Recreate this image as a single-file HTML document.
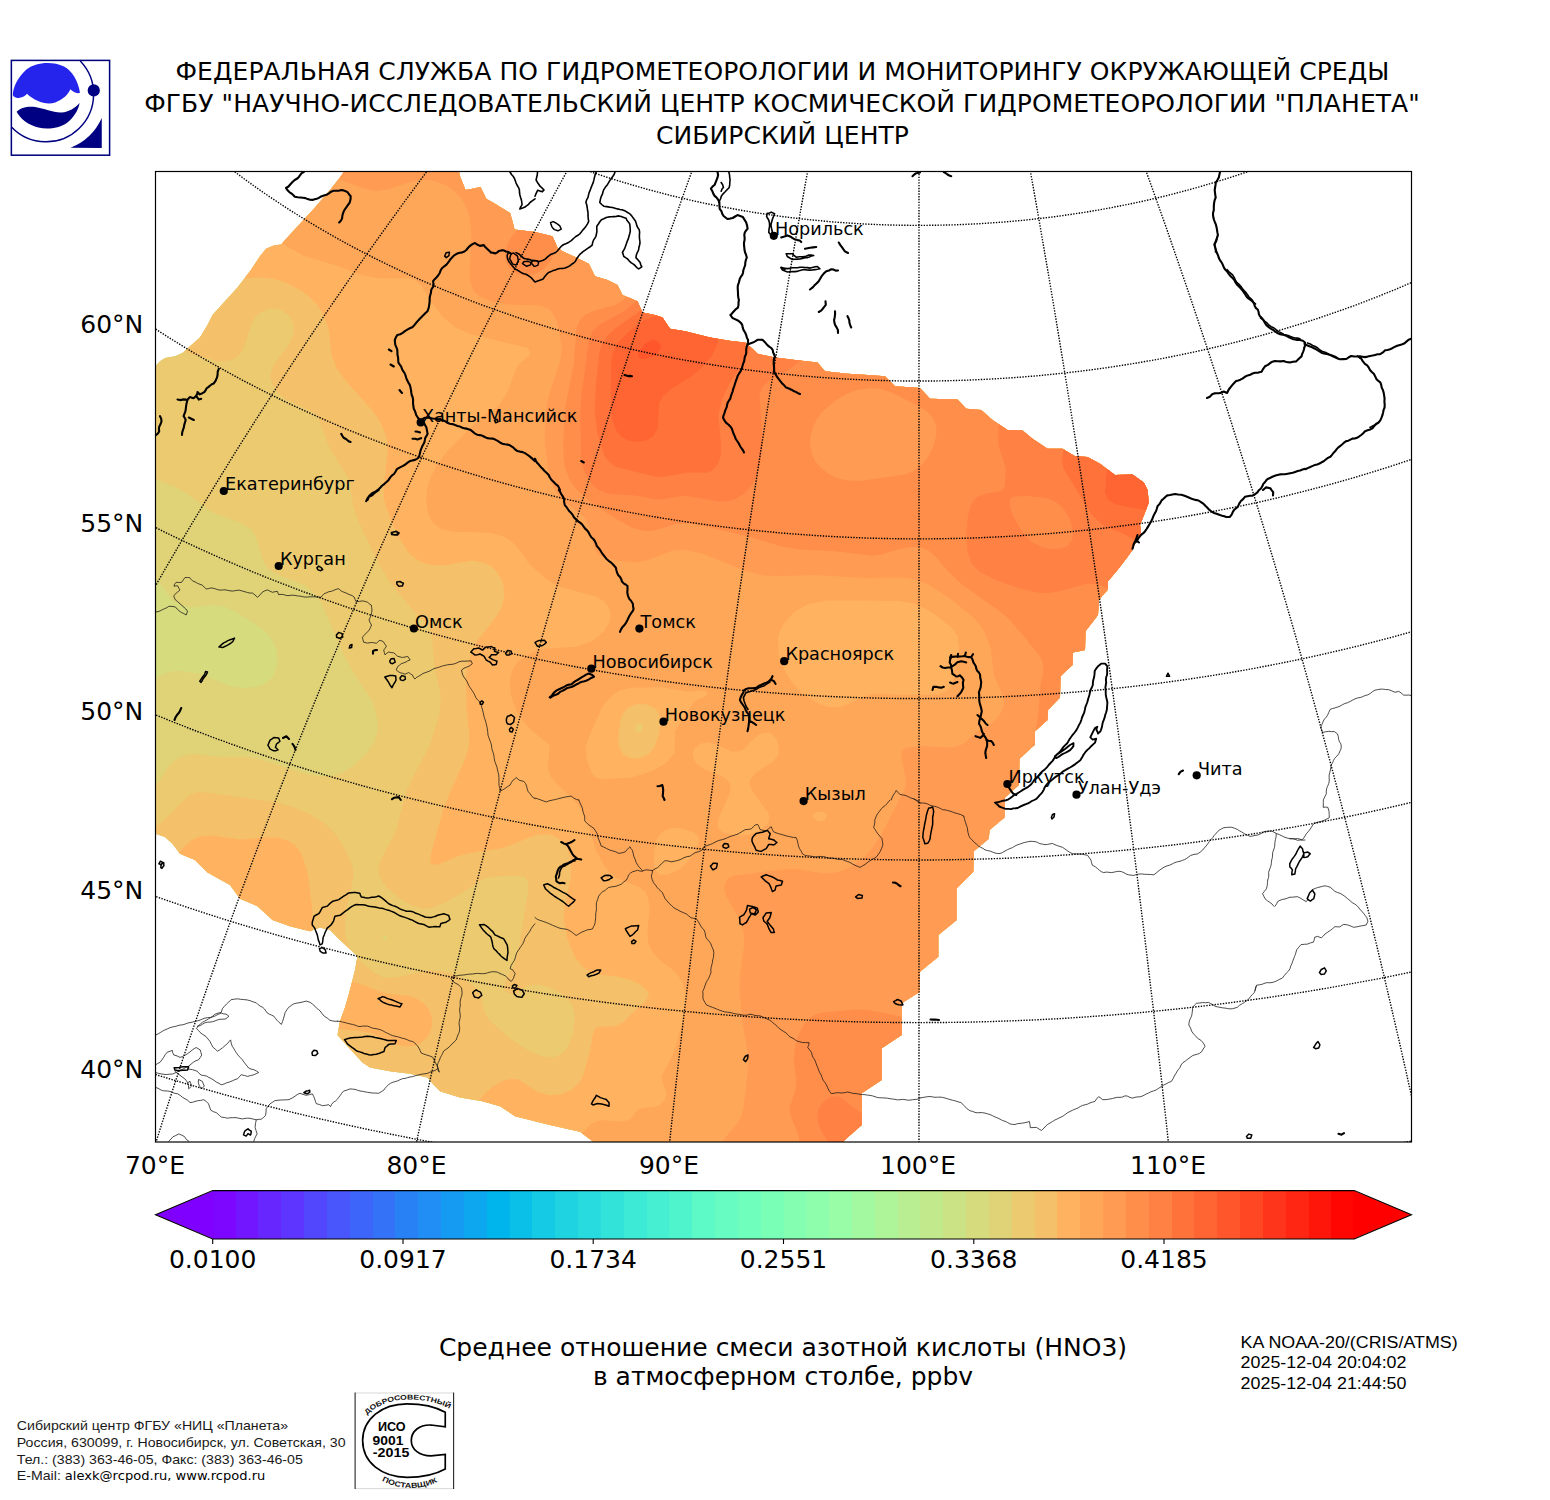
<!DOCTYPE html>
<html lang="ru"><head><meta charset="utf-8"><title>HNO3</title>
<style>html,body{margin:0;padding:0;background:#fff}body{width:1550px;height:1500px;overflow:hidden}svg{display:block}.dj{font-family:"DejaVu Sans","Liberation Sans",sans-serif}.lib{font-family:"Liberation Sans","DejaVu Sans",sans-serif}</style>
</head><body>
<svg width="1550" height="1500" viewBox="0 0 1550 1500">
<rect x="0" y="0" width="1550" height="1500" fill="#fff"/>
<g class="dj" font-size="25" fill="#000" text-anchor="middle" letter-spacing="0.07">
<text x="782.5" y="80">ФЕДЕРАЛЬНАЯ СЛУЖБА ПО ГИДРОМЕТЕОРОЛОГИИ И МОНИТОРИНГУ ОКРУЖАЮЩЕЙ СРЕДЫ</text>
<text x="782" y="112">ФГБУ "НАУЧНО-ИССЛЕДОВАТЕЛЬСКИЙ ЦЕНТР КОСМИЧЕСКОЙ ГИДРОМЕТЕОРОЛОГИИ "ПЛАНЕТА"</text>
<text x="782.5" y="144">СИБИРСКИЙ ЦЕНТР</text>
</g>
<g id="logo" transform="translate(0 50) scale(0.08)">
<rect x="142" y="130" width="1228" height="1185" fill="#fff" stroke="#00007c" stroke-width="19"/>
<path fill="#2424ec" d="M160 560 C165 470 215 350 330 245 C430 160 640 130 800 205 C900 255 980 390 1000 535 C965 552 915 530 880 492 C850 560 780 625 690 655 C590 690 440 650 338 548 C305 585 255 608 205 596 C180 590 162 580 160 560 Z"/>
<path fill="#000082" d="M208 772 C250 725 340 700 440 712 C560 730 660 785 770 780 C860 775 940 725 996 662 C975 760 920 850 830 915 C740 975 600 1000 480 970 C360 940 250 860 208 772 Z"/>
<path fill="none" stroke="#000082" stroke-width="18" d="M1003 138 A594 594 0 0 1 146 965"/>
<circle cx="1172" cy="505" r="76" fill="#000082"/>
<path fill="#000082" d="M1272 850 L1272 1225 L882 1222 A725 725 0 0 0 1272 850 Z"/>
</g>
<clipPath id="fr"><rect x="155.5" y="171.5" width="1256.0" height="970.5"/></clipPath>
<g clip-path="url(#fr)">
<clipPath id="dz"><path d="M155.5 366.2 160.0 361.2 165.0 358.0 175.0 356.2 182.5 353.0 190.0 346.2 200.0 337.5 207.5 325.0 212.5 315.0 225.0 301.2 237.5 287.5 250.0 271.2 260.0 256.2 266.2 248.8 273.8 245.5 281.2 244.5 286.2 238.8 300.0 223.8 315.0 207.5 330.0 190.0 340.0 177.5 344.5 171.0 458.8 171.0 460.0 176.2 462.5 182.5 465.5 190.0 472.5 188.8 480.5 187.0 483.8 193.8 486.2 198.8 495.0 203.8 510.0 213.0 512.5 221.2 514.5 229.5 522.5 230.5 535.0 232.0 552.5 236.2 557.5 247.5 562.5 251.2 576.2 257.5 588.8 263.8 595.0 276.2 607.5 280.0 617.5 285.0 622.5 295.0 637.5 301.2 642.5 312.5 655.0 315.0 662.5 317.5 670.0 328.8 685.0 331.2 710.0 337.5 732.5 341.2 745.0 342.5 752.5 348.8 757.5 353.8 775.0 357.5 795.0 360.0 817.5 362.5 825.0 371.2 847.5 373.8 867.5 375.0 885.0 376.2 895.0 386.2 920.0 388.0 930.0 398.8 957.5 399.5 966.2 408.8 981.2 410.0 992.5 420.0 1007.5 430.0 1022.5 430.5 1032.5 438.8 1047.5 448.8 1062.5 448.8 1075.0 456.2 1087.5 457.0 1100.0 463.8 1115.0 475.0 1132.5 474.5 1143.8 482.5 1147.5 490.0 1148.8 502.5 1145.0 512.5 1140.0 525.0 1141.0 532.5 1137.5 540.0 1137.0 538.8 1132.5 550.0 1126.2 558.8 1117.5 570.0 1108.0 581.2 1107.5 590.0 1098.8 600.0 1098.0 615.0 1085.5 631.2 1085.0 650.0 1073.0 652.5 1072.5 665.0 1060.5 676.2 1060.0 697.5 1048.0 710.0 1047.5 720.0 1035.0 731.2 1034.5 745.0 1019.5 758.8 1018.8 785.0 1005.0 797.5 1004.5 817.5 989.5 830.0 988.8 838.8 973.8 851.2 973.3 871.7 956.7 888.3 956.7 920.0 938.3 935.0 938.3 956.7 920.0 971.7 920.0 991.7 901.7 1003.3 901.7 1035.0 881.7 1048.3 881.7 1080.0 861.7 1093.3 861.7 1125.0 846.7 1138.3 841.7 1143.0 596.7 1143.0 593.3 1141.7 580.0 1131.7 550.0 1125.0 535.0 1121.2 515.0 1116.2 500.0 1106.2 482.5 1101.2 460.0 1097.5 440.0 1091.2 433.8 1085.0 427.5 1077.5 410.0 1073.8 390.0 1071.2 370.0 1067.5 362.5 1062.5 347.5 1046.2 337.5 1035.0 340.0 1021.2 345.0 1007.5 350.0 990.0 355.0 970.0 357.5 956.2 340.0 940.0 330.0 930.0 320.0 927.5 310.0 931.2 290.0 926.2 272.5 920.0 257.5 906.2 240.0 898.8 230.0 885.0 207.5 872.5 195.0 860.0 180.0 853.8 172.5 843.8 165.0 837.0 155.5 833.8Z"/></clipPath>
<g clip-path="url(#dz)" shape-rendering="geometricPrecision">
<path fill="#d6db7e" fill-rule="evenodd" d="M153.3 364.2 152.5 366.2 152.6 834.6 154.3 836.5 163.4 839.6 170.3 845.8 178.3 856.2 193.3 862.5 205.8 875.0 228.0 887.3 238.0 901.0 255.8 908.8 271.0 922.6 289.3 929.2 309.6 934.2 311.1 934.1 320.2 930.6 328.5 932.7 338.0 942.2 354.3 957.3 352.1 969.4 347.1 989.2 342.1 1006.6 337.1 1020.5 334.5 1035.1 335.3 1037.0 360.3 1064.5 369.4 1070.4 389.4 1074.2 409.5 1076.7 425.9 1080.2 431.6 1087.1 438.8 1094.0 459.1 1100.4 481.8 1104.2 498.7 1109.0 514.3 1119.2 549.3 1127.9 578.7 1134.5 591.7 1144.3 596.4 1146.0 842.0 1146.0 843.8 1145.2 863.7 1127.2 864.7 1125.0 864.7 1094.9 883.4 1082.5 884.6 1080.9 884.7 1049.9 903.4 1037.5 904.6 1035.9 904.7 1005.0 922.3 993.6 923.0 991.7 923.0 973.1 940.9 958.1 941.3 956.7 941.3 936.4 958.6 922.3 959.5 921.2 959.7 889.5 976.1 872.9 976.7 852.7 990.9 840.9 991.7 839.3 992.4 831.5 1007.1 818.9 1007.5 817.6 1008.0 798.9 1020.8 787.2 1021.7 785.7 1022.5 760.1 1037.1 746.5 1037.5 745.1 1038.0 732.6 1049.9 721.8 1050.5 720.1 1050.9 711.3 1062.7 698.9 1063.5 677.6 1075.1 666.5 1075.5 665.1 1075.9 655.0 1085.9 652.9 1087.6 651.5 1088.0 650.1 1088.5 632.3 1100.8 616.0 1101.7 601.2 1110.2 591.3 1110.9 582.4 1119.9 571.8 1134.9 551.7 1138.6 542.8 1140.1 541.5 1143.7 533.8 1144.0 532.4 1143.1 525.4 1151.7 502.8 1150.4 489.2 1145.9 480.4 1133.2 471.6 1116.0 472.0 1101.6 461.2 1088.6 454.2 1075.9 453.3 1063.0 445.8 1048.4 445.8 1034.3 436.3 1023.9 427.9 1008.5 427.0 994.3 417.6 982.8 407.4 967.6 405.9 959.7 397.4 958.4 396.7 931.3 395.8 921.3 385.3 896.3 383.3 887.1 374.1 885.8 373.4 847.8 370.8 826.5 368.4 819.8 360.5 818.4 359.6 775.5 354.5 759.0 351.0 754.4 346.4 745.9 339.6 732.9 338.3 710.6 334.6 685.7 328.3 671.8 326.0 664.0 314.9 655.6 312.1 644.6 309.9 639.8 299.3 638.7 298.5 624.7 292.7 619.3 282.6 608.6 277.2 597.1 273.7 590.6 261.4 564.0 248.7 559.9 245.6 555.2 235.0 554.1 233.7 535.7 229.1 516.9 226.8 512.9 212.1 512.1 210.8 488.5 196.6 483.1 185.4 481.8 184.3 480.1 184.0 467.4 186.6 462.9 175.3 461.5 169.8 460.4 168.5 459.0 168.0 344.5 168.0 342.9 168.5 327.7 188.1 312.8 205.5 279.7 241.7 272.8 242.6 263.9 246.8 257.5 254.6 247.6 269.5 235.2 285.6 210.1 313.2 204.9 323.6 197.7 335.6 180.9 350.4 174.1 353.4 163.6 355.3 158.0 359.1Z"/>
<path fill="#e0d377" fill-rule="evenodd" d="M152.5 574.5 169.1 596.0 172.8 600.0 180.0 604.8 192.0 607.4 212.0 605.1 224.0 606.5 235.7 612.0 255.3 624.0 265.6 632.0 272.1 640.0 275.9 648.0 277.6 660.0 276.0 669.3 272.0 677.4 264.4 684.0 256.0 687.0 244.0 688.0 232.0 686.4 200.0 674.1 180.0 670.8 172.0 671.3 164.0 673.5 159.4 676.0 152.5 682.1 152.7 834.9 154.3 836.5 163.4 839.6 170.3 845.8 178.3 856.2 193.3 862.5 205.8 875.0 228.0 887.3 238.0 901.0 255.8 908.8 271.0 922.6 289.3 929.2 309.6 934.2 320.2 930.6 328.5 932.7 354.3 957.3 347.1 989.2 337.1 1020.5 334.5 1035.1 335.3 1037.0 360.6 1064.8 369.4 1070.4 425.9 1080.2 438.8 1094.0 459.1 1100.4 481.8 1104.2 498.7 1109.0 514.3 1119.2 578.7 1134.5 591.7 1144.3 596.2 1146.0 842.0 1146.0 864.4 1126.4 864.7 1094.9 884.2 1081.7 884.7 1049.9 904.6 1035.9 904.7 1005.0 922.5 993.4 923.0 973.1 941.2 957.6 941.3 936.4 959.3 921.4 959.7 889.5 976.1 872.9 976.7 852.7 990.9 840.9 992.4 831.5 1007.1 818.9 1008.0 798.9 1021.7 785.7 1022.5 760.1 1037.1 746.5 1038.0 732.6 1049.9 721.8 1050.9 711.3 1062.7 698.9 1063.5 677.6 1075.1 666.5 1075.9 655.0 1085.9 652.9 1087.6 651.5 1088.5 632.3 1100.8 616.0 1101.7 601.2 1110.2 591.3 1110.9 582.4 1135.1 551.4 1143.8 533.5 1143.1 525.4 1151.7 502.2 1150.4 489.2 1146.3 480.9 1134.0 471.9 1116.0 472.0 1101.6 461.2 1088.6 454.2 1075.9 453.3 1063.0 445.8 1048.4 445.8 1034.3 436.3 1023.9 427.9 1008.5 427.0 994.3 417.6 982.8 407.4 967.6 405.9 958.4 396.7 931.3 395.8 921.3 385.3 896.3 383.3 885.8 373.4 826.5 368.4 818.4 359.6 775.5 354.5 759.0 351.0 745.9 339.6 710.6 334.6 685.7 328.3 671.8 326.0 664.0 314.9 644.6 309.9 639.8 299.3 624.7 292.7 619.3 282.6 608.6 277.2 597.1 273.7 590.6 261.4 564.0 248.7 559.9 245.6 554.1 233.7 535.7 229.1 516.9 226.8 512.1 210.8 488.5 196.6 481.8 184.3 467.4 186.6 461.5 169.8 459.9 168.2 344.2 168.0 342.2 169.1 312.8 205.5 279.7 241.7 272.8 242.6 263.9 246.8 235.2 285.6 210.1 313.2 197.7 335.6 180.9 350.4 174.1 353.4 163.6 355.3 158.0 359.1 152.8 365.0Z"/>
<path fill="#ebca70" fill-rule="evenodd" d="M152.5 478.1 172.0 485.5 184.0 491.5 208.0 509.3 216.0 514.0 240.0 522.8 248.0 526.8 252.0 530.2 255.6 536.0 262.7 560.0 268.0 568.5 276.0 573.8 304.0 584.9 316.0 594.5 321.9 604.0 344.2 656.0 355.7 676.0 371.6 700.0 375.9 712.0 378.0 724.0 377.3 732.0 374.9 740.0 370.6 748.0 364.2 756.0 348.0 769.5 340.0 773.7 332.0 775.9 320.0 776.3 308.0 774.4 264.0 760.2 248.0 756.9 220.0 756.9 196.0 753.7 188.0 754.6 180.0 757.2 172.0 762.4 168.0 766.7 160.0 780.0 152.5 788.7 153.0 835.4 163.4 839.6 170.3 845.8 178.3 856.2 193.3 862.5 205.8 875.0 228.0 887.3 238.0 901.0 255.8 908.8 271.0 922.6 289.3 929.2 309.6 934.2 320.2 930.6 328.5 932.7 354.3 957.3 347.1 989.2 337.1 1020.5 334.5 1035.1 335.3 1037.0 360.8 1065.0 369.4 1070.4 425.9 1080.2 438.8 1094.0 459.1 1100.4 481.8 1104.2 498.7 1109.0 514.3 1119.2 578.7 1134.5 591.7 1144.3 596.7 1146.0 842.0 1146.0 863.9 1127.0 864.7 1125.0 864.7 1094.9 884.6 1080.9 884.7 1049.9 904.6 1035.9 904.7 1005.0 922.5 993.4 923.0 973.1 941.2 957.6 941.3 936.4 959.3 921.4 959.7 889.5 976.1 872.9 976.7 852.7 990.9 840.9 992.4 831.5 1007.1 818.9 1008.0 798.9 1021.7 785.7 1022.5 760.1 1037.1 746.5 1038.0 732.6 1049.9 721.8 1050.9 711.3 1062.7 698.9 1063.5 677.6 1075.1 666.5 1075.9 655.0 1085.9 652.9 1087.6 651.5 1088.5 632.3 1100.8 616.0 1101.7 601.2 1110.2 591.3 1110.9 582.4 1135.1 551.4 1143.8 533.5 1143.1 525.4 1151.7 502.5 1150.4 489.2 1146.3 480.9 1134.0 471.9 1116.0 472.0 1101.6 461.2 1088.6 454.2 1075.9 453.3 1063.0 445.8 1048.4 445.8 1034.3 436.3 1023.9 427.9 1008.5 427.0 994.3 417.6 982.8 407.4 967.6 405.9 958.4 396.7 931.3 395.8 921.3 385.3 896.3 383.3 885.8 373.4 826.5 368.4 818.4 359.6 775.5 354.5 759.0 351.0 745.9 339.6 710.6 334.6 685.7 328.3 671.8 326.0 664.0 314.9 644.6 309.9 639.8 299.3 624.7 292.7 619.3 282.6 608.6 277.2 597.1 273.7 590.6 261.4 564.0 248.7 559.9 245.6 554.1 233.7 535.7 229.1 516.9 226.8 512.1 210.8 488.5 196.6 481.8 184.3 467.4 186.6 461.5 169.8 458.8 168.0 343.4 168.2 312.8 205.5 279.7 241.7 272.8 242.6 264.1 246.6 235.2 285.6 210.1 313.2 197.7 335.6 180.9 350.4 174.1 353.4 163.6 355.3 158.0 359.1 152.8 365.0ZM386.9 936.0 385.4 940.0 384.0 940.3 382.9 936.0 384.0 934.7Z"/>
<path fill="#f4c069" fill-rule="evenodd" d="M180.7 350.5 216.0 360.7 224.0 361.3 232.0 359.8 236.0 357.8 241.5 352.0 245.2 344.0 251.3 324.0 256.0 316.5 261.1 312.0 272.0 308.3 280.0 309.4 288.0 314.5 291.9 320.0 293.9 328.0 293.0 336.0 288.0 346.0 276.9 360.0 272.2 368.0 270.4 376.0 272.2 384.0 277.5 392.0 284.0 397.7 312.0 412.0 316.7 416.0 320.0 422.1 329.5 448.0 348.0 477.3 350.1 484.0 352.9 504.0 356.4 516.0 363.3 532.0 381.3 568.0 388.6 580.0 404.0 599.8 416.0 613.8 427.3 624.0 429.5 628.0 432.0 637.8 434.7 668.0 441.0 696.0 439.0 716.0 430.6 744.0 411.5 780.0 406.3 792.0 395.6 832.0 380.5 860.0 378.4 868.0 379.4 876.0 381.2 880.0 387.6 888.0 400.0 898.6 412.0 905.8 424.0 908.8 432.0 908.0 444.0 903.1 460.0 894.3 484.0 878.6 492.0 877.0 512.0 875.4 524.0 876.4 527.4 880.0 528.5 888.0 520.0 941.2 515.6 960.0 512.0 969.0 505.8 980.0 503.8 988.0 505.9 992.0 512.0 994.2 516.0 993.6 528.0 985.6 540.0 984.7 552.0 988.2 564.9 996.0 572.0 1004.6 574.7 1016.0 573.3 1032.0 569.1 1044.0 564.0 1051.5 560.0 1054.8 552.0 1057.5 540.0 1055.7 524.3 1048.0 506.6 1036.0 489.6 1020.0 484.1 1012.0 481.4 996.0 476.1 988.0 465.5 980.0 452.0 973.7 440.0 970.7 428.0 970.3 396.0 977.3 384.0 977.7 376.0 973.8 363.0 964.0 355.2 956.0 349.9 948.0 346.7 940.0 345.0 932.0 345.9 912.0 353.7 876.0 352.8 868.0 350.3 860.0 342.4 844.0 333.8 832.0 324.0 822.7 308.0 812.9 292.0 806.4 272.0 801.4 208.0 792.7 196.0 792.2 188.0 796.0 172.7 812.0 152.5 830.0 153.1 835.6 163.4 839.6 170.3 845.8 178.3 856.2 193.3 862.5 205.8 875.0 228.0 887.3 238.0 901.0 255.8 908.8 271.0 922.6 289.3 929.2 309.6 934.2 320.2 930.6 328.5 932.7 354.3 957.3 347.1 989.2 337.1 1020.5 334.5 1035.4 360.3 1064.5 368.9 1070.3 425.9 1080.2 438.8 1094.0 459.1 1100.4 481.8 1104.2 498.7 1109.0 514.3 1119.2 578.7 1134.5 591.7 1144.3 596.2 1146.0 843.5 1145.4 864.4 1126.4 864.7 1094.9 884.2 1081.7 884.7 1049.9 904.6 1035.9 904.7 1005.0 922.3 993.6 923.0 973.1 940.9 958.1 941.3 936.4 959.5 921.2 959.7 889.5 976.1 872.9 976.7 852.7 990.9 840.9 992.4 831.5 1007.1 818.9 1008.0 798.9 1021.7 785.7 1022.5 760.1 1037.1 746.5 1038.0 732.6 1049.9 721.8 1050.9 711.3 1062.7 698.9 1063.5 677.6 1075.1 666.5 1075.9 655.0 1085.9 652.9 1087.6 651.5 1088.5 632.3 1100.8 616.0 1101.7 601.2 1110.2 591.3 1110.9 582.4 1134.9 551.7 1143.7 533.8 1143.1 525.4 1151.7 502.8 1150.4 489.2 1146.1 480.7 1133.2 471.6 1116.0 472.0 1101.6 461.2 1088.6 454.2 1075.9 453.3 1063.0 445.8 1048.4 445.8 1034.3 436.3 1023.9 427.9 1008.5 427.0 994.3 417.6 982.8 407.4 967.6 405.9 958.4 396.7 931.3 395.8 921.3 385.3 896.3 383.3 885.8 373.4 826.5 368.4 818.4 359.6 775.5 354.5 759.0 351.0 745.9 339.6 710.6 334.6 685.7 328.3 671.8 326.0 664.0 314.9 644.6 309.9 639.8 299.3 624.7 292.7 619.3 282.6 608.6 277.2 597.1 273.7 590.6 261.4 564.0 248.7 559.9 245.6 554.1 233.7 535.7 229.1 516.9 226.8 512.1 210.8 488.5 196.6 481.8 184.3 467.4 186.6 461.5 169.8 459.0 168.0 342.9 168.5 312.8 205.5 279.7 241.7 272.8 242.6 263.9 246.8 235.2 285.6 210.1 313.2 197.7 335.6ZM642.4 724.0 642.8 728.0 640.6 732.0 636.0 732.1 635.0 728.0 636.0 725.4 640.0 722.8Z"/>
<path fill="#ffb360" fill-rule="evenodd" d="M240.3 279.0 256.0 277.5 268.0 278.1 280.0 280.6 288.0 283.7 300.0 290.0 308.6 296.0 316.5 304.0 321.9 312.0 328.4 328.0 332.0 356.0 336.4 368.0 345.1 380.0 373.6 412.0 380.0 421.8 384.7 432.0 386.9 440.0 387.8 452.0 383.7 488.0 383.8 500.0 392.6 524.0 400.6 540.0 408.2 552.0 412.0 556.1 420.0 561.6 432.0 565.3 448.0 565.1 472.0 560.6 484.0 562.5 492.0 567.1 496.0 571.0 499.6 576.0 503.2 584.0 504.5 596.0 501.2 608.0 496.0 617.0 477.9 640.0 471.8 652.0 467.8 664.0 465.7 680.0 466.9 712.0 469.4 736.0 468.5 748.0 464.8 760.0 450.0 792.0 442.4 812.0 431.6 852.0 430.2 860.0 431.0 864.0 436.0 865.0 440.0 864.0 456.0 857.0 468.0 853.5 504.0 847.8 536.0 834.8 548.0 834.0 556.0 836.8 564.0 843.5 567.1 848.0 570.8 860.0 571.1 876.0 564.4 908.0 563.8 920.0 567.7 940.0 574.3 956.0 580.0 964.1 584.2 968.0 590.8 972.0 600.0 974.7 616.0 976.3 628.0 978.9 640.0 984.3 648.2 992.0 648.7 996.0 646.4 1000.0 624.0 1021.5 616.0 1025.9 600.0 1026.7 595.7 1028.0 593.3 1032.0 589.9 1052.0 582.9 1076.0 580.0 1082.0 572.0 1089.4 560.0 1094.7 548.0 1095.3 536.0 1090.9 519.1 1080.0 516.0 1078.9 508.0 1079.2 500.0 1082.1 490.8 1088.0 482.5 1096.0 476.9 1103.4 498.7 1109.0 514.3 1119.2 578.7 1134.5 591.7 1144.3 596.4 1146.0 843.3 1145.5 864.4 1126.4 864.7 1094.9 884.2 1081.7 884.7 1049.9 904.6 1035.9 904.7 1005.0 922.3 993.6 923.0 973.1 940.9 958.1 941.3 936.4 959.5 921.2 959.7 889.5 976.1 872.9 976.7 852.7 990.9 840.9 992.4 831.5 1007.1 818.9 1008.0 798.9 1021.7 785.7 1022.5 760.1 1037.1 746.5 1038.0 732.6 1049.9 721.8 1050.9 711.3 1062.7 698.9 1063.5 677.6 1075.1 666.5 1075.9 655.0 1085.9 652.9 1087.6 651.5 1088.5 632.3 1100.8 616.0 1101.7 601.2 1110.2 591.3 1110.9 582.4 1134.9 551.7 1143.7 533.8 1143.1 525.4 1151.7 502.8 1150.4 489.2 1146.3 480.9 1133.2 471.6 1116.0 472.0 1101.6 461.2 1088.6 454.2 1075.9 453.3 1063.0 445.8 1048.4 445.8 1034.3 436.3 1023.9 427.9 1008.5 427.0 994.3 417.6 982.8 407.4 967.6 405.9 958.4 396.7 931.3 395.8 921.3 385.3 896.3 383.3 885.8 373.4 826.5 368.4 818.4 359.6 775.5 354.5 759.0 351.0 745.9 339.6 710.6 334.6 685.7 328.3 671.8 326.0 664.0 314.9 644.6 309.9 639.8 299.3 624.7 292.7 619.3 282.6 608.6 277.2 597.1 273.7 590.6 261.4 564.0 248.7 559.9 245.6 554.1 233.7 535.7 229.1 516.9 226.8 512.1 210.8 488.5 196.6 481.8 184.3 467.4 186.6 461.5 169.8 459.3 168.1 343.1 168.3 312.8 205.5 279.7 241.7 272.8 242.6 263.9 246.8ZM645.2 704.0 654.5 708.0 657.9 712.0 659.6 716.0 660.3 724.0 658.6 736.0 654.0 748.0 648.0 754.6 640.0 758.3 632.0 758.4 624.0 754.7 619.4 748.0 618.1 740.0 620.4 720.0 623.9 712.0 628.0 707.8 636.0 704.2ZM200.0 836.5 192.2 840.0 187.0 844.0 179.3 852.0 177.1 854.9 177.8 855.8 193.3 862.5 205.8 875.0 228.0 887.3 238.0 901.0 255.8 908.8 271.0 922.6 289.3 929.2 309.6 934.2 312.2 933.6 312.2 908.0 307.3 872.0 302.5 856.0 297.7 848.0 293.6 844.0 286.5 840.0 276.0 837.6 264.0 837.5 240.0 839.5 212.0 835.4ZM336.0 1028.6 364.0 1031.4 372.0 1033.7 396.0 1044.4 404.0 1046.2 412.0 1046.2 420.0 1043.7 428.0 1036.7 431.7 1028.0 432.2 1020.0 430.1 1012.0 427.9 1008.0 424.0 1003.4 416.0 998.3 408.0 995.8 384.0 993.0 349.4 980.1 342.1 1006.6 337.1 1020.5Z"/>
<path fill="#ffa759" fill-rule="evenodd" d="M279.0 241.8 304.0 256.0 336.0 265.5 364.0 275.7 380.0 278.6 408.0 278.3 414.5 280.0 420.0 284.0 432.9 304.0 442.0 316.0 456.0 328.0 472.0 334.6 527.8 348.0 530.3 352.0 528.6 356.0 520.0 363.0 516.4 368.0 508.0 390.6 500.0 404.1 495.9 408.0 484.0 415.1 476.0 422.2 448.0 450.3 437.6 464.0 431.3 476.0 427.3 488.0 426.0 500.0 427.6 512.0 431.1 520.0 434.3 524.0 439.3 528.0 444.0 530.1 456.0 532.0 488.0 532.5 500.0 535.2 508.0 538.9 516.0 545.6 529.4 564.0 547.3 580.0 556.0 585.1 563.6 588.0 596.0 596.4 604.0 601.3 609.3 608.0 610.6 616.0 608.5 624.0 603.3 632.0 592.0 641.2 576.0 646.7 548.0 648.2 540.0 649.5 532.0 652.6 519.3 660.0 513.1 668.0 510.5 676.0 509.7 684.0 511.0 696.0 516.0 710.2 524.0 722.2 532.0 730.7 548.2 744.0 549.6 748.0 547.7 768.0 550.4 776.0 556.8 784.0 574.0 800.0 580.0 807.8 588.0 824.3 596.0 850.4 604.0 865.3 609.3 872.0 616.0 877.8 640.0 887.6 645.3 892.0 648.0 898.2 649.7 908.0 647.2 932.0 648.6 944.0 652.8 952.0 659.0 960.0 672.0 969.3 678.6 976.0 683.2 984.0 686.2 996.0 685.0 1012.0 675.2 1048.0 672.2 1056.0 661.6 1076.0 662.0 1080.0 666.3 1092.0 666.1 1096.0 664.0 1100.7 660.9 1104.0 656.0 1106.4 640.0 1108.3 635.3 1112.0 632.0 1117.5 628.0 1120.3 620.0 1121.5 604.0 1120.0 596.0 1121.2 591.1 1124.0 580.0 1135.4 591.7 1144.3 596.7 1146.0 843.3 1145.5 864.4 1126.4 864.7 1094.9 884.2 1081.7 884.7 1049.9 904.6 1035.9 904.7 1005.0 922.3 993.6 923.0 973.1 940.9 958.1 941.3 936.4 959.5 921.2 959.7 889.5 976.1 872.9 976.7 852.7 990.9 840.9 992.4 831.5 1007.1 818.9 1008.0 798.9 1021.7 785.7 1022.5 760.1 1037.1 746.5 1038.0 732.6 1049.9 721.8 1050.9 711.3 1062.7 698.9 1063.5 677.6 1075.1 666.5 1075.9 655.0 1085.9 652.9 1087.6 651.5 1088.5 632.3 1100.8 616.0 1101.7 601.2 1110.2 591.3 1110.9 582.4 1134.9 551.7 1143.7 533.8 1143.1 525.4 1151.7 502.8 1150.4 489.2 1146.3 480.9 1133.2 471.6 1116.0 472.0 1101.6 461.2 1088.6 454.2 1075.9 453.3 1063.0 445.8 1048.4 445.8 1034.3 436.3 1023.9 427.9 1008.5 427.0 994.3 417.6 982.8 407.4 967.6 405.9 958.4 396.7 931.3 395.8 921.3 385.3 896.3 383.3 885.8 373.4 826.5 368.4 818.4 359.6 775.5 354.5 759.0 351.0 745.9 339.6 710.6 334.6 685.7 328.3 671.8 326.0 664.0 314.9 644.6 309.9 639.8 299.3 624.7 292.7 619.3 282.6 608.6 277.2 597.1 273.7 590.6 261.4 564.0 248.7 559.9 245.6 554.1 233.7 535.7 229.1 516.9 226.8 512.1 210.8 488.5 196.6 481.8 184.3 467.4 186.6 461.5 169.8 459.6 168.1 343.4 168.2 312.8 205.5ZM828.0 600.4 896.0 600.7 912.0 602.9 920.0 605.9 931.2 612.0 951.9 628.0 957.4 636.0 959.1 648.0 957.4 660.0 952.0 683.4 948.0 690.3 940.0 694.0 932.0 694.8 896.0 694.8 880.0 693.3 872.0 694.0 864.0 696.5 844.0 706.0 836.0 707.4 828.0 706.7 819.8 704.0 812.1 700.0 800.9 692.0 793.3 684.0 787.7 676.0 781.7 664.0 779.2 656.0 778.0 640.0 779.7 632.0 783.4 624.0 794.2 612.0 808.5 604.0ZM632.0 687.7 664.0 687.4 688.0 691.7 704.0 690.3 707.8 692.0 705.6 696.0 696.0 700.5 692.0 704.5 680.0 722.7 675.0 732.0 674.7 752.0 669.1 760.0 664.4 764.0 652.0 771.1 632.0 777.6 604.0 778.9 596.0 778.0 592.0 773.1 586.9 760.0 585.6 748.0 587.9 740.0 601.7 708.0 611.3 696.0 620.0 690.5ZM772.0 734.2 776.0 738.7 778.2 744.0 778.8 752.0 777.7 756.0 772.0 762.4 756.0 772.2 750.0 780.0 749.5 784.0 752.8 792.0 767.6 812.0 769.1 816.0 769.2 820.0 767.5 824.0 760.0 830.7 748.0 835.1 736.0 835.7 721.9 832.0 718.1 828.0 717.6 824.0 719.7 816.0 730.2 792.0 730.3 784.0 727.6 780.0 722.3 776.0 704.0 768.9 697.2 764.0 694.2 760.0 692.8 756.0 693.0 752.0 695.1 748.0 699.9 744.0 708.0 742.3 716.0 744.5 732.0 751.7 740.0 751.3 744.0 749.1 756.0 736.7 760.0 734.0 768.0 732.6ZM824.0 811.8 826.8 816.0 824.0 820.8 820.0 821.4 816.0 820.4 812.6 816.0 816.0 811.8ZM680.0 828.0 693.2 832.0 698.0 836.0 699.0 840.0 696.9 848.0 689.4 860.0 680.0 869.2 668.0 874.8 660.0 874.8 656.0 871.2 654.1 864.0 654.1 852.0 656.3 840.0 660.0 834.0 664.0 830.8 672.0 828.0Z"/>
<path fill="#ff9b52" fill-rule="evenodd" d="M336.0 178.2 364.0 188.6 376.0 191.0 388.0 189.5 408.0 182.5 420.0 180.0 428.0 179.9 436.0 181.2 448.0 186.2 455.5 192.0 462.3 200.0 466.7 208.0 469.5 216.0 471.4 232.0 469.6 276.0 470.8 284.0 474.5 292.0 480.0 296.7 492.0 301.5 508.0 304.4 540.0 305.6 548.0 308.4 552.0 312.0 556.0 319.2 558.7 328.0 561.8 348.0 560.0 362.1 548.7 396.0 545.0 416.0 544.9 444.0 549.2 476.0 553.4 488.0 558.7 496.0 566.9 504.0 583.4 516.0 586.2 520.0 590.9 532.0 594.3 548.0 596.1 552.0 600.0 555.6 616.0 560.6 636.0 562.3 648.0 560.1 672.0 550.7 684.0 549.7 704.0 554.1 744.0 570.5 764.0 575.5 780.0 576.1 816.0 575.1 864.0 578.1 900.0 577.5 912.0 578.7 928.0 584.3 952.0 600.1 971.9 616.0 979.2 624.0 984.5 632.0 990.5 648.0 994.3 676.0 1003.0 696.0 1003.9 704.0 1001.5 712.0 996.0 719.6 992.0 723.2 976.0 732.6 964.0 743.2 960.0 745.6 952.0 747.6 920.0 746.2 904.0 748.2 901.4 752.0 901.2 756.0 906.0 780.0 905.1 788.0 880.6 836.0 872.3 848.0 864.0 857.0 852.0 866.2 844.0 870.1 836.0 872.5 824.0 873.4 796.0 869.1 784.0 869.2 732.8 876.0 728.0 878.5 724.7 884.0 724.3 888.0 726.2 896.0 739.8 920.0 743.7 932.0 744.3 944.0 740.0 976.0 739.7 992.0 742.1 1020.0 747.7 1052.0 748.7 1064.0 743.5 1108.0 741.4 1116.0 736.0 1125.2 726.4 1136.0 719.6 1146.0 843.1 1145.7 864.4 1126.4 864.7 1094.9 884.2 1081.7 884.7 1049.9 904.6 1035.9 904.7 1005.0 922.3 993.6 923.0 973.1 940.9 958.1 941.3 936.4 959.5 921.2 959.7 889.5 976.1 872.9 976.7 852.7 990.9 840.9 992.4 831.5 1007.1 818.9 1008.0 798.9 1021.7 785.7 1022.5 760.1 1037.1 746.5 1038.0 732.6 1049.9 721.8 1050.9 711.3 1062.7 698.9 1063.5 677.6 1075.1 666.5 1075.9 655.0 1085.9 652.9 1087.6 651.5 1088.5 632.3 1100.8 616.0 1101.7 601.2 1110.2 591.3 1110.9 582.4 1134.9 551.7 1143.7 533.8 1143.1 525.4 1151.7 502.8 1150.4 489.2 1146.4 481.2 1133.2 471.6 1116.0 472.0 1101.6 461.2 1088.6 454.2 1075.9 453.3 1063.0 445.8 1048.4 445.8 1034.3 436.3 1023.9 427.9 1008.5 427.0 994.3 417.6 982.8 407.4 967.6 405.9 958.4 396.7 931.3 395.8 921.3 385.3 896.3 383.3 885.8 373.4 826.5 368.4 818.4 359.6 775.5 354.5 759.0 351.0 745.9 339.6 710.6 334.6 685.7 328.3 671.8 326.0 664.0 314.9 644.6 309.9 639.8 299.3 624.7 292.7 619.3 282.6 608.6 277.2 597.1 273.7 590.6 261.4 564.0 248.7 559.9 245.6 554.1 233.7 535.7 229.1 516.9 226.8 512.1 210.8 488.5 196.6 481.8 184.3 467.4 186.6 461.5 169.8 459.9 168.2 344.2 168.0 342.2 169.1Z"/>
<path fill="#ff8e4a" fill-rule="evenodd" d="M628.5 294.2 623.3 300.0 616.0 304.8 592.0 311.4 584.0 315.6 580.0 320.0 576.6 328.0 573.8 364.0 565.1 408.0 563.3 444.0 563.8 460.0 565.1 468.0 569.8 480.0 576.0 488.9 588.0 500.1 616.0 518.8 632.0 527.4 644.0 531.0 652.0 530.9 676.0 523.9 688.0 523.1 700.0 525.0 748.0 536.5 780.0 545.9 800.0 549.4 836.0 551.3 872.0 555.8 880.0 554.8 900.0 549.0 912.0 546.8 920.0 547.2 928.0 550.2 936.0 557.0 948.9 572.0 961.4 584.0 1000.8 612.0 1010.1 620.0 1040.1 656.0 1043.1 664.0 1043.4 672.0 1040.6 684.0 1038.0 716.0 1032.2 751.2 1037.3 746.0 1038.0 732.6 1049.9 721.8 1050.9 711.3 1062.8 698.7 1063.5 677.6 1075.1 666.5 1075.9 655.0 1085.9 652.9 1087.8 651.2 1088.5 632.3 1100.7 616.3 1101.7 601.2 1110.2 591.3 1110.9 582.4 1134.9 551.7 1143.7 533.8 1143.1 525.4 1151.7 502.8 1150.4 489.2 1145.9 480.4 1133.2 471.6 1116.0 472.0 1101.6 461.2 1088.6 454.2 1075.9 453.3 1063.0 445.8 1048.4 445.8 1034.3 436.3 1023.9 427.9 1008.5 427.0 994.3 417.6 982.8 407.4 967.6 405.9 958.4 396.7 931.3 395.8 921.3 385.3 896.3 383.3 885.8 373.4 826.5 368.4 818.4 359.6 775.5 354.5 759.0 351.0 745.9 339.6 710.6 334.6 685.7 328.3 671.8 326.0 664.2 315.0 644.6 309.9 639.6 299.1ZM872.0 387.9 880.0 388.8 892.0 392.4 920.0 406.9 928.0 412.2 934.1 420.0 936.4 428.0 936.2 436.0 932.8 448.0 928.0 457.3 920.0 466.5 912.0 471.8 904.0 474.8 860.0 481.1 848.0 480.5 836.0 477.7 828.0 473.4 821.1 468.0 816.0 462.2 812.5 456.0 810.0 444.0 810.5 436.0 812.6 428.0 816.2 420.0 821.9 412.0 835.9 400.0 848.0 393.2 856.0 390.1ZM904.0 1016.9 868.0 1009.9 856.0 1009.5 820.0 1013.0 812.0 1016.6 804.2 1024.0 798.1 1036.0 795.0 1048.0 793.6 1060.0 796.2 1080.0 796.0 1088.0 789.6 1108.0 790.7 1116.0 798.8 1136.0 800.1 1146.0 842.5 1145.9 864.1 1126.8 864.7 1094.9 884.3 1081.4 884.7 1049.9 904.3 1036.4ZM520.0 227.4 512.0 236.2 507.4 244.0 505.2 252.0 505.5 260.0 509.2 268.0 516.0 273.4 524.0 275.6 532.0 274.9 539.0 272.0 544.0 268.4 551.3 260.0 556.0 248.0 556.6 238.0 554.9 234.5 553.2 233.3 535.4 229.0Z"/>
<path fill="#ff8143" fill-rule="evenodd" d="M639.3 298.9 624.0 311.3 600.9 324.0 596.0 327.7 592.0 332.5 589.0 340.0 581.4 396.0 580.2 412.0 581.1 456.0 582.2 464.0 584.9 472.0 589.3 480.0 596.0 488.2 603.1 492.0 612.0 494.1 636.0 495.6 656.0 499.4 664.0 499.0 684.0 495.4 720.0 501.6 728.0 501.0 736.0 498.6 744.0 493.6 752.0 485.1 756.0 478.1 759.3 468.0 761.7 452.0 762.4 436.0 759.4 396.0 761.8 388.0 769.9 380.0 788.0 370.2 804.4 358.0 775.5 354.5 759.0 351.0 745.6 339.6 710.6 334.6 685.7 328.3 671.8 326.0 664.4 315.2 655.9 312.2 644.6 309.9 640.0 299.5ZM998.7 420.6 998.2 440.0 999.2 448.0 1006.0 468.0 1005.0 484.0 1004.0 488.6 1000.0 491.7 988.0 493.2 980.0 495.5 976.0 498.0 971.4 504.0 967.9 516.0 966.3 536.0 967.6 552.0 971.9 564.0 980.2 572.0 995.7 580.0 1020.0 588.4 1036.0 592.4 1048.0 593.1 1056.0 592.1 1088.0 583.4 1100.0 584.8 1110.5 590.0 1110.9 582.4 1134.9 551.7 1143.8 533.5 1143.1 525.4 1151.7 502.8 1150.4 489.2 1146.3 480.9 1133.2 471.6 1116.0 472.0 1101.6 461.2 1088.6 454.2 1075.9 453.3 1063.0 445.8 1048.4 445.8 1034.3 436.3 1023.7 427.7 1008.5 427.0ZM1028.0 496.0 1044.0 497.5 1052.0 499.9 1058.7 504.0 1064.0 509.2 1070.2 520.0 1073.2 532.0 1072.2 540.0 1068.0 545.6 1064.0 547.7 1056.0 549.2 1044.0 548.3 1032.0 542.2 1022.2 532.0 1012.8 516.0 1010.2 508.0 1009.8 500.0 1012.0 497.3 1016.0 496.2ZM824.0 1101.3 820.0 1106.6 817.8 1112.0 817.5 1120.0 820.0 1128.8 830.5 1146.0 842.8 1145.8 864.1 1126.8 864.7 1115.9 840.0 1097.1 832.0 1096.5Z"/>
<path fill="#ff733b" fill-rule="evenodd" d="M1064.0 446.2 1061.8 460.0 1063.3 468.0 1092.0 515.0 1104.0 525.9 1124.0 534.0 1139.3 542.4 1143.8 533.5 1143.1 525.4 1151.7 502.8 1150.4 489.2 1146.1 480.7 1133.2 471.6 1116.0 472.0 1101.6 461.2 1088.9 454.4 1075.9 453.3ZM643.9 308.3 615.8 328.0 608.0 334.8 601.9 344.0 599.4 352.0 595.6 388.0 594.7 412.0 597.1 432.0 604.0 454.9 608.0 461.1 616.0 467.0 656.0 476.7 664.0 476.7 688.0 472.4 708.0 472.4 712.0 470.8 718.1 464.0 720.7 456.0 721.1 444.0 718.4 416.0 721.7 400.0 729.4 384.0 753.0 345.2 745.6 339.6 710.6 334.6 685.7 328.3 671.8 326.0 663.7 314.8 644.6 309.9Z"/>
<path fill="#ff6533" fill-rule="evenodd" d="M1107.3 465.5 1104.9 492.0 1108.0 500.3 1116.0 504.4 1148.8 510.9 1151.7 502.2 1150.4 489.2 1145.9 480.4 1133.5 471.7 1116.0 472.0ZM660.0 314.3 644.0 320.3 628.5 332.0 616.8 344.0 612.0 355.4 610.9 368.0 610.9 404.0 612.2 420.0 617.0 432.0 620.5 436.0 628.0 440.4 636.0 441.7 644.0 441.1 648.0 439.8 653.4 436.0 657.7 428.0 658.9 404.0 663.0 396.0 672.0 388.5 692.0 376.0 701.5 368.0 711.8 356.0 717.5 344.0 718.2 335.8 671.8 326.0 664.6 315.4Z"/>
<path fill="#ff562c" fill-rule="evenodd" d="M644.6 344.0 638.6 352.0 638.3 356.0 640.0 358.5 644.0 359.6 653.7 356.0 658.3 352.0 660.6 348.0 660.5 344.0 656.0 340.3 652.0 340.1Z"/>
</g>
<g fill="none" stroke="#000" stroke-linejoin="round" stroke-linecap="round">
<path stroke-width="0.75" stroke="#111" d="M155.5 612.0 158.0 611.7 160.3 610.8 162.6 609.6 164.7 608.6 166.9 607.7 168.8 606.3 172.0 606.4 175.3 606.9 177.2 609.0 179.1 610.9 181.3 612.4 183.8 613.6 186.2 615.0 187.5 611.2 185.8 609.0 184.0 607.3 182.0 605.5 180.0 603.8 177.7 601.7 175.3 599.8 173.7 596.2 175.0 594.4 176.5 592.8 178.3 591.5 180.0 590.0 178.8 588.1 177.7 585.8 173.9 586.1 174.7 584.2 176.1 582.3 178.8 582.5 181.5 582.4 183.3 579.9 185.0 577.5 187.5 577.5 189.7 577.6 191.0 579.3 192.7 581.0 195.3 582.0 197.6 583.4 200.0 584.3 202.4 585.2 204.2 587.1 206.2 589.0 208.8 588.5 211.2 587.9 214.4 588.5 217.5 589.6 220.0 590.1 222.5 590.0 225.0 589.8 227.5 590.3 230.0 590.8 232.5 591.1 235.6 590.6 238.7 590.1 241.9 590.9 245.1 591.8 247.5 592.5 249.9 593.1 252.5 593.0 255.0 595.0 257.5 597.3 260.1 594.9 262.3 592.2 264.8 590.8 267.5 589.9 270.0 591.2 272.5 592.3 275.0 591.7 277.4 591.4 278.6 594.6 281.3 594.4 283.8 594.6 286.2 595.5 289.1 595.6 292.1 595.1 295.0 595.4 297.5 595.9 300.0 596.1 302.5 596.6 304.9 597.1 307.5 597.0 310.0 596.8 313.2 596.8 316.3 596.9 318.8 597.1 320.9 597.4 322.2 595.7 323.9 593.9 326.4 592.8 328.9 591.7 331.4 591.3 333.8 590.3 336.2 589.3 338.8 588.7 341.3 591.2 343.7 592.1 346.0 593.0 348.0 594.0 350.1 594.8 352.2 595.7 354.2 597.1 355.2 599.7 356.3 601.8 359.4 601.4 362.5 600.9 365.1 601.4 367.6 602.3 369.3 603.8 371.2 605.0 371.7 607.5 372.0 610.0 371.6 612.5 371.2 615.0 370.2 617.4 369.0 620.0 370.1 622.6 371.5 625.0 370.4 627.7 369.1 630.3 367.2 632.2 365.3 634.0 363.7 635.6 362.4 637.5 363.0 639.8 363.6 642.2 367.5 643.1 370.0 642.7 372.5 642.5 376.3 643.3 378.2 641.6 380.0 640.2 383.4 641.7 384.7 643.9 386.4 646.2 385.2 648.2 383.7 650.0 384.3 652.5 385.0 654.9 386.7 653.3 388.8 652.0 391.2 652.6 393.6 652.8 395.6 654.4 397.5 656.2 400.0 656.9 402.5 657.5 405.0 657.0 407.8 656.5 410.2 660.0 407.8 660.8 406.0 662.0 403.7 662.9 401.2 663.7 399.5 665.2 397.8 666.4 396.2 670.0 398.1 671.5 400.1 672.7 402.5 673.3 405.1 674.2 408.8 672.5 410.4 673.8 412.5 675.0 413.4 677.1 414.9 679.0 416.7 677.3 418.7 676.2 420.7 675.1 422.5 673.7 425.1 672.7 427.7 671.8 430.1 670.8 432.5 669.4 434.9 668.3 437.4 667.7 439.9 666.9 442.4 666.0 444.9 665.4 447.4 664.8 450.0 664.5 452.6 664.3 455.8 663.4 458.7 661.9 461.8 661.2 465.0 661.2 468.1 661.0 471.1 660.8 472.3 663.7 470.7 665.1 468.8 666.3 466.3 667.3 463.9 668.3 461.5 670.1 462.0 672.5 462.7 674.9 463.9 677.0 465.3 679.0 466.8 681.0 467.8 683.3 468.8 685.6 470.2 687.7 471.6 689.8 473.3 692.3 474.7 694.9 475.9 697.8 477.9 700.2 480.3 702.4 481.2 704.9 481.8 707.5 482.6 710.0 483.2 712.5 483.7 715.0 484.3 717.5 485.2 720.0 485.9 722.4 486.5 724.9 487.1 727.4 487.5 730.0 487.8 732.6 488.0 735.2 488.8 737.6 489.8 740.0 490.7 742.5 491.4 745.0 491.7 747.5 492.2 750.1 493.1 752.5 493.8 755.0 494.1 757.6 494.5 760.1 495.2 762.6 496.2 765.0 497.0 767.4 497.5 769.9 498.1 772.4 498.7 774.9 498.9 777.4 499.0 780.0 498.9 782.8 499.1 785.7 499.8 788.4 500.1 791.1 502.5 790.0 504.9 788.5 507.4 786.7 510.1 785.1 511.4 782.6 512.9 780.3 514.6 779.1 516.2 777.6 517.9 779.1 519.8 780.5 523.7 781.3 525.5 783.5 526.6 786.1 527.2 788.9 528.2 791.6 530.3 794.0 532.1 796.6 535.0 798.8M337.5 1021.2 340.0 1021.4 342.5 1022.0 345.0 1022.6 347.5 1023.3 350.0 1023.9 352.5 1024.4 355.0 1025.1 357.4 1026.1 360.0 1026.6 362.5 1026.1 365.0 1026.1 367.5 1026.1 370.0 1027.1 372.4 1028.1 375.1 1028.5 377.7 1029.0 380.2 1029.7 382.7 1030.7 385.2 1032.2 387.7 1033.3 390.2 1034.6 392.5 1035.6 395.0 1036.2 397.6 1036.7 400.0 1037.5 402.5 1038.3 405.0 1038.8 407.4 1039.8 409.8 1040.9 412.4 1041.4 414.4 1042.7 416.1 1044.3 417.6 1046.1 419.0 1048.2 420.1 1050.4 421.0 1052.8 423.6 1054.0 426.3 1054.9 429.5 1055.9 432.7 1057.2 434.0 1059.9 435.3 1062.4 436.8 1065.4 438.2 1068.5 439.3 1072.2 438.0 1070.1 437.8 1067.5 437.3 1065.0 438.3 1062.5 439.5 1060.1 440.3 1057.7 441.5 1055.5 442.6 1053.4 443.6 1051.1 445.8 1049.5 448.0 1048.0 450.0 1046.2 451.9 1044.0 454.1 1042.0 456.2 1040.0 457.0 1037.5 457.9 1035.0 459.1 1032.6 459.6 1030.1 459.7 1027.5 459.2 1025.0 459.1 1022.5 459.6 1020.0 460.2 1017.5 460.2 1015.0 459.9 1012.5 459.6 1010.0 459.9 1007.5 460.3 1005.0 460.1 1002.5 460.4 1000.0 461.1 997.5 461.9 995.1 462.1 992.6 461.8 990.0 461.4 987.7 459.7 986.2 458.3 984.5 456.0 983.5 453.6 982.1 451.0 978.8 453.6 976.0 456.9 975.8 460.0 975.2 462.5 975.1 465.0 974.8 467.5 974.3 470.0 974.1 472.5 974.0 475.0 973.6 477.5 973.4 480.0 973.6 482.6 973.7 485.0 973.5 487.5 972.9 490.0 972.1 492.5 971.7 495.0 971.8 497.4 972.2 500.0 973.5 502.7 974.6 505.3 975.9 507.6 977.9 509.1 980.0 511.3 981.4 513.4 978.5 514.1 976.2 515.2 973.7 513.9 971.8 512.7 969.8 510.1 968.7 511.1 965.6 512.8 962.6 514.4 960.3 515.3 957.7 516.0 954.9 517.0 952.3 518.6 949.9 520.2 947.6 521.6 945.5 523.0 943.4 524.0 941.1 524.8 938.6 526.4 936.1 528.2 933.6 529.9 931.2 531.3 928.5 533.0 926.0 535.0 923.8M337.5 1021.2 334.9 1021.3 332.4 1020.9 329.9 1020.3 327.4 1018.2 324.8 1016.5 323.0 1014.9 321.6 1013.0 320.2 1011.0 318.4 1009.5 316.5 1008.1 315.0 1006.3 312.6 1004.2 310.1 1002.3 306.3 1001.1 303.1 1001.9 300.0 1002.6 296.9 1003.1 293.8 1003.8 291.2 1005.5 288.6 1007.4 286.8 1009.9 285.1 1012.6 284.3 1015.9 283.3 1019.0 282.6 1021.4 281.4 1024.4 279.0 1022.3 277.1 1020.4 275.4 1018.3 273.8 1016.2 271.6 1015.1 269.3 1014.2 267.2 1012.9 265.8 1010.9 264.4 1008.9 262.7 1007.3 260.3 1006.2 258.2 1004.7 256.3 1002.8 253.2 1001.9 250.1 1000.7 247.0 999.9 243.8 999.6 240.6 999.3 237.5 998.8 234.3 999.2 231.1 999.7 228.8 1002.0 226.5 1004.0 224.4 1006.3 222.4 1008.7 221.2 1012.4 217.9 1013.2 214.7 1014.3 212.8 1016.0 210.8 1017.5 208.7 1018.7 206.7 1020.1 204.5 1021.2 202.4 1022.3 200.0 1024.4 197.7 1026.4 196.6 1028.7 198.4 1030.4 200.1 1032.4 202.0 1033.9 204.0 1035.3 206.0 1036.5 207.9 1038.9 209.9 1041.3 211.4 1044.3 212.9 1047.2 215.2 1049.1 217.5 1051.2 220.1 1049.6 222.7 1047.7 225.0 1045.6 227.4 1043.7 228.9 1041.8 230.6 1039.9 231.2 1043.1 232.2 1046.2 233.6 1048.2 234.8 1050.4 236.2 1052.5 238.0 1055.1 240.1 1057.4 242.3 1059.7 244.1 1062.2 245.5 1064.1 247.0 1066.0 248.5 1067.9 251.1 1069.1 253.9 1069.7 256.4 1071.0 258.7 1072.5 256.2 1073.7 253.7 1074.8 250.6 1075.6 247.5 1076.4 244.4 1075.5 241.2 1074.7 239.3 1076.8 237.5 1078.8 234.8 1079.7 232.4 1080.8 229.4 1082.0 226.4 1082.9 223.9 1084.1 221.2 1084.8 219.0 1083.3 216.5 1082.2 214.0 1080.3 211.3 1078.6 208.8 1077.4 206.4 1076.0 203.8 1075.5 201.2 1075.1 199.1 1073.4 197.4 1071.4 195.0 1070.4 192.6 1069.7 190.0 1069.3 187.5 1068.8M155.5 1035.0 158.0 1034.0 160.2 1032.6 162.5 1031.2 164.9 1029.9 167.4 1028.9 169.9 1027.7 172.4 1027.0 174.9 1026.5 177.4 1025.8 179.9 1025.1 182.6 1024.8 185.1 1024.1 187.5 1023.1 190.0 1022.6 192.5 1022.1 195.0 1021.3 197.5 1020.8 200.0 1020.1 202.4 1019.0 204.9 1018.1 207.6 1017.7 210.2 1017.5 212.7 1016.9 215.2 1015.9 218.2 1014.3 221.3 1013.1 223.5 1013.9 226.0 1014.1 228.9 1016.2 227.1 1017.8 225.1 1019.1 222.5 1019.2 219.9 1019.3 217.5 1019.9 215.1 1020.9 212.6 1021.7 210.1 1022.1 207.5 1022.2 205.1 1022.7 202.9 1023.9 200.4 1025.6 197.5 1026.2M155.5 1065.0 157.6 1063.5 159.9 1062.4 161.8 1060.0 163.6 1057.4 165.2 1054.7 167.2 1052.2 170.0 1051.3 172.4 1050.4 172.7 1052.6 173.8 1055.0 177.0 1055.9 180.0 1057.4 182.6 1056.5 185.1 1055.2 187.5 1053.7 190.0 1051.9 192.4 1049.9 194.3 1048.6 196.2 1047.5 198.2 1048.7 200.2 1049.9 200.9 1052.4 201.7 1055.1 200.2 1057.6 198.5 1059.8 196.0 1060.7 193.5 1062.1 191.1 1064.1 188.7 1066.1 186.2 1067.4 183.7 1068.6 180.7 1070.2 177.7 1071.7 175.2 1072.9 172.6 1074.0 169.3 1074.2 166.2 1074.6 163.8 1074.3 161.2 1073.9 158.3 1073.3 155.5 1072.5M155.5 1087.5 157.9 1088.2 160.1 1089.5 162.3 1090.6 164.9 1090.9 167.5 1091.0 170.0 1091.4 172.4 1092.5 174.9 1093.3 177.5 1093.8 180.1 1095.3 182.4 1097.2 185.0 1098.8 187.7 1100.3 190.0 1102.5 192.5 1102.3 195.0 1101.4 197.4 1100.8 200.6 1100.4 203.8 1099.7 206.4 1101.6 208.6 1103.9 209.6 1107.0 210.9 1110.3 213.5 1111.7 216.2 1112.6 218.0 1114.1 219.7 1115.7 221.4 1117.1 224.5 1117.5 227.5 1118.2 229.9 1117.8 232.5 1117.7 235.0 1117.6 237.5 1117.9 240.0 1118.5 242.5 1118.9 245.0 1118.4 247.5 1118.2 250.1 1118.3 253.2 1119.1 256.2 1119.8 258.7 1119.4 261.4 1119.1 263.6 1117.4 265.6 1115.3 266.0 1112.0 266.2 1108.7 268.1 1106.2 270.1 1103.8 272.4 1102.3 274.8 1100.7 278.0 1100.2 281.3 1100.0 283.8 1099.9 286.4 1099.8 289.0 1099.6 292.1 1098.1 295.0 1096.2 297.3 1094.6 299.9 1093.3 303.1 1094.4 306.2 1095.3 309.4 1094.6 312.4 1093.9 313.6 1096.3 314.7 1098.9 315.4 1101.3 316.3 1103.7 319.4 1104.5 322.5 1105.7 325.7 1105.3 328.7 1104.7 330.5 1106.7 331.6 1104.4 333.4 1102.2 335.5 1101.0 337.3 1099.3 338.7 1097.4 340.3 1095.3 341.8 1093.1 343.6 1091.1 346.9 1090.1 350.0 1088.9 352.5 1089.1 355.0 1089.4 357.4 1090.2 360.0 1091.0 362.6 1091.3 365.1 1091.9 367.5 1092.3 370.0 1092.7 372.5 1093.0 375.7 1093.1 378.6 1093.3 381.2 1091.8 383.8 1090.1 385.2 1088.1 386.8 1086.3 388.5 1084.7 390.5 1083.3 392.8 1082.3 395.1 1081.6 397.6 1080.9 400.0 1079.7 402.5 1078.7 405.1 1078.4 407.5 1077.7 410.0 1077.0 412.6 1076.6 415.0 1075.8 417.5 1075.1 420.0 1074.7 422.5 1074.0 425.0 1073.8 427.6 1073.3 430.0 1072.1 432.5 1071.3 435.2 1070.4 437.5 1068.8M256.2 1120.0 255.7 1122.5 255.3 1125.0 255.1 1127.5 256.1 1130.7 257.1 1133.8 255.9 1136.1 254.7 1138.6 253.8 1141.2M168.8 1141.2 171.0 1139.0 172.9 1136.8 175.8 1135.5 178.8 1133.9 181.8 1135.2 184.6 1136.7 186.2 1139.3 188.8 1141.2M187.7 1082.9 190.0 1081.3 190.8 1083.7 191.4 1086.3 188.7 1088.8 188.5 1085.6ZM198.9 1079.6 202.4 1081.4 203.3 1083.8 204.3 1086.2 202.6 1087.6 201.4 1089.0 200.4 1087.3 199.0 1085.1 198.4 1082.6ZM175.0 1071.2 177.2 1073.5 179.9 1075.2 182.3 1077.1 184.9 1078.9 186.3 1080.6 187.5 1082.5M535.0 798.0 537.6 798.8 540.1 799.7 543.3 800.9 546.3 801.9 549.2 800.8 552.4 800.1 555.6 799.5 558.7 798.6 561.9 797.8 565.0 797.1 568.1 796.5 571.3 796.2 573.8 798.1 576.4 799.5 578.8 800.0M920.0 802.5 918.0 801.0 915.9 799.9 913.7 798.9 910.5 797.8 907.5 796.3 905.0 795.3 902.4 794.9 899.7 794.3 897.8 792.2 896.2 790.4 895.5 792.2 894.0 793.9 892.4 796.9 891.2 800.0M578.8 800.0 580.1 803.1 581.5 806.2 582.5 808.6 582.9 811.3 583.7 813.8 584.6 816.2 584.7 818.7 584.9 821.3 586.9 823.1 588.8 824.9 591.4 826.6 594.0 828.5 595.6 831.1 597.2 833.7 597.8 836.9 598.9 839.9 600.2 843.0 601.0 845.8 603.6 847.0 606.4 848.4 609.4 849.9 612.6 850.9 615.7 851.8 618.8 853.4 622.1 852.8 625.3 851.8 626.9 849.8 628.5 848.1 630.0 846.7 630.9 848.6 632.4 850.2 633.1 853.2 633.8 856.2 635.1 859.3 636.2 862.5 637.8 865.3 639.7 867.7 641.4 869.3 642.6 870.8 646.2 869.8 649.4 870.2 652.5 870.5 655.0 868.9 657.6 867.6 659.6 865.8 661.3 863.8 663.0 862.4 664.9 860.7 668.2 861.0 671.2 861.8 674.4 861.2 677.7 860.5 680.8 859.4 683.7 857.8 686.8 856.7 690.0 856.2 692.5 854.4 695.1 852.7 698.3 851.8 701.6 850.5 702.9 848.4 704.0 846.6 707.1 845.5 710.3 844.5 712.7 843.5 715.0 842.2 717.4 841.0 719.9 840.2 722.5 839.6 725.0 838.8 727.4 837.7 729.8 836.6 732.3 835.8 734.7 835.1 737.0 834.4 739.2 833.3 742.1 831.5 745.1 829.7 748.2 829.4 751.3 828.9 753.2 826.9 755.0 825.1 757.6 824.3 759.0 826.9 760.0 829.5 763.1 830.3 766.2 831.1 768.5 828.8 771.2 826.7 772.3 829.3 773.4 831.7 776.1 832.8 778.6 833.7 781.3 834.4 783.8 835.1 786.2 835.9 788.7 836.4 791.2 837.0 793.7 837.5 796.2 837.6 797.2 840.2 797.8 842.9 798.5 845.9 799.5 848.7 801.2 851.1 802.4 853.9 804.8 855.2 807.4 855.8 810.7 856.1 813.8 856.8 816.9 856.8 820.0 856.4 822.6 856.5 825.1 856.9 827.5 857.8 830.0 858.2 832.5 858.2 835.0 858.7 837.5 859.3 840.0 859.4 842.6 859.6 845.1 860.6 847.5 861.5 850.0 862.4 853.0 864.3 856.1 865.8 858.1 866.5 860.0 867.4 862.4 865.9 865.0 864.5 867.0 862.9 869.0 861.3 871.3 860.0 874.0 858.4 876.7 856.7 878.5 854.1 880.3 851.4 881.6 848.3 882.9 845.0 882.5 841.7 881.9 838.5 879.7 836.0 877.7 833.6 876.3 831.6 875.1 829.5 873.7 827.5 874.3 825.0 874.8 822.5 874.8 819.9 876.0 816.8 877.5 813.8 879.5 811.3 881.3 808.8 883.0 807.2 884.9 805.8 886.6 804.1 888.3 802.0 890.0 800.0M642.5 871.2 639.9 871.1 637.5 870.2 635.1 871.1 632.7 871.7 630.5 873.0 628.6 874.9 627.7 877.6 626.4 880.1 623.8 881.9 621.4 884.1 618.3 885.5 615.1 886.4 611.8 886.8 608.6 887.5 606.6 889.0 604.8 890.6 602.7 891.5 600.6 893.7 598.6 896.2 597.7 899.3 596.5 902.4 596.3 905.0 596.4 907.5 596.4 910.0 595.9 912.5 595.7 915.0 595.7 917.5 595.4 920.0 595.1 922.5 594.5 925.0 593.4 926.8 592.6 928.9 590.0 929.5 587.4 929.8 584.3 931.1 581.2 932.4 578.8 933.9 576.2 935.5 574.2 934.0 572.5 932.5 570.1 931.0 567.7 929.6 565.1 929.0 562.4 928.7 559.8 928.2 557.3 927.3 554.9 926.2 552.4 925.2 549.4 923.8 546.3 922.5 543.1 921.4 539.9 920.3 537.2 919.3 535.0 917.5M652.5 870.5 652.1 873.4 651.3 876.2 652.2 879.5 653.5 882.6 655.5 885.1 657.3 887.7 659.0 889.4 660.7 890.9 662.4 892.6 663.7 895.6 665.1 898.7 667.1 901.0 669.1 903.4 671.5 905.5 673.9 907.8 675.9 908.9 678.0 910.0 680.0 911.2 683.1 912.5 686.2 913.9 688.6 915.8 691.1 917.8 693.7 918.3 696.3 918.7 698.1 921.3 699.7 924.0 700.8 926.1 702.3 928.1 704.0 929.9 705.0 932.4 705.4 935.0 706.1 937.6 707.5 939.6 709.2 941.4 710.6 943.4 711.9 946.7 713.3 949.9 713.8 952.4 713.7 955.0 713.4 957.5 712.7 959.9 712.4 962.5 711.8 965.0 711.1 967.4 710.8 969.9 711.0 972.4 709.8 975.5 708.5 978.6 707.2 980.7 706.0 982.8 705.2 985.1 704.1 988.4 702.7 991.4 703.0 993.7 702.9 996.2 703.0 998.8 704.0 1000.9 705.2 1002.9 706.4 1004.9 709.4 1006.2 712.6 1007.4 715.0 1008.3 717.4 1009.4 719.9 1010.3 722.4 1011.2 724.8 1011.9 727.5 1012.2 730.0 1012.5 732.5 1013.1 735.0 1013.8 737.5 1014.2 740.1 1014.4 742.5 1015.0 745.0 1015.3 747.5 1015.0 750.0 1014.2 752.5 1014.6 755.0 1015.5 757.5 1015.7 760.1 1015.9 762.5 1016.8 764.8 1017.9 767.0 1019.0 769.2 1019.9 771.3 1021.2 773.2 1023.0 775.3 1024.7 777.3 1026.5 779.2 1028.4 781.3 1030.0 783.6 1031.4 785.9 1032.8 787.8 1034.7 789.7 1036.7 792.0 1037.8 794.2 1039.0 796.2 1040.7 799.3 1041.7 802.5 1042.5 805.6 1042.6 809.1 1042.7 808.6 1045.4 807.7 1047.4 809.6 1049.8 811.5 1052.4 812.1 1055.1 813.2 1057.6 814.8 1059.9 815.7 1062.4 816.6 1065.0 817.7 1067.4 818.6 1070.1 819.7 1072.6 821.2 1075.0 822.1 1077.7 823.2 1080.3 825.0 1082.5 826.4 1084.9 827.6 1087.4 828.7 1090.0 830.0 1091.9 831.3 1093.7 833.7 1093.3 836.2 1092.8 838.7 1092.7 841.7 1093.0 844.6 1092.7 847.5 1092.0 850.0 1092.5 852.4 1093.3 855.0 1093.5 857.5 1093.8 860.0 1094.3 862.5 1094.5 865.1 1094.7 867.6 1095.1 870.1 1095.4 872.6 1095.9 875.0 1096.7 877.4 1097.5 879.9 1097.8 882.5 1097.8 885.0 1098.0 887.5 1098.2 890.0 1098.7 892.5 1099.0 895.0 1099.4 897.5 1099.9 900.0 1099.7 902.5 1099.4 905.0 1099.6 907.5 1100.2 910.1 1100.1 912.6 1099.7 915.1 1099.4 917.6 1099.2 920.0 1098.0M920.0 802.5 917.6 801.7 915.8 800.0 913.8 798.8M920.0 803.0 922.5 803.0 925.0 803.2 927.5 803.9 929.8 805.1 932.3 805.9 934.9 806.4 937.7 807.2 940.2 808.4 942.6 809.7 945.1 809.9 947.6 810.5 950.0 811.1 952.5 812.0 955.0 813.0 957.6 813.6 960.8 814.6 963.8 816.2M963.8 816.2 964.6 819.5 965.6 822.7 966.3 825.1 967.3 827.5 967.6 830.0 968.0 832.6 968.7 835.2 969.8 837.6 972.0 839.9 974.1 842.2 976.4 844.1 978.7 846.3 980.9 847.4 983.1 848.5 985.0 849.9 987.6 850.6 990.2 851.1 992.6 852.1 995.0 853.0 997.5 853.5 1000.1 853.5 1002.7 852.4 1005.0 851.0 1007.4 849.7 1009.9 848.6 1012.5 847.6 1014.9 846.1 1017.3 844.9 1019.8 844.1 1022.3 843.2 1024.8 842.4 1027.4 841.9 1030.0 841.3 1032.5 841.4 1035.1 841.6 1037.5 842.4 1039.9 843.7 1042.5 844.1 1045.0 844.7 1047.5 844.4 1049.9 843.9 1052.5 843.5 1055.0 844.7 1057.4 845.7 1059.9 846.4 1062.6 847.4 1064.9 848.9 1067.1 850.6 1069.7 852.3 1072.5 853.7 1075.0 853.8 1077.5 854.1 1080.1 854.0 1082.6 854.3 1085.1 854.8 1087.6 855.3 1089.3 857.8 1091.0 860.1 1091.5 862.6 1092.3 865.2 1095.2 866.7 1097.6 868.6 1099.4 870.3 1101.4 871.7 1103.7 872.6 1106.2 872.1 1108.8 872.3 1111.3 872.6 1113.8 872.2 1116.3 871.6 1118.7 871.3 1121.4 871.6 1123.9 872.6 1126.2 874.1 1128.6 874.8 1131.1 875.2 1133.8 875.4 1136.2 874.6 1138.7 874.1 1141.3 873.9 1144.4 874.3 1147.5 874.4 1150.6 874.5 1153.8 874.8 1156.0 873.2 1157.9 871.5 1160.0 869.9 1162.0 868.5 1164.0 867.2 1166.2 866.2 1169.5 865.2 1172.5 863.8 1174.9 862.5 1177.4 861.8 1180.0 861.3 1182.4 860.4 1184.8 859.5 1186.8 858.3 1188.8 856.8 1190.8 855.4 1194.1 854.4 1197.6 853.9 1200.2 852.1 1202.6 850.1 1204.3 848.0 1206.1 846.0 1207.7 843.9 1209.2 841.7 1210.9 839.6 1212.7 837.7 1214.2 835.4 1216.0 833.5 1217.7 831.5 1219.5 830.0 1221.5 828.8 1223.7 827.8 1226.2 827.4 1228.7 827.3 1231.3 827.2 1234.5 828.2 1237.5 829.5 1239.5 830.8 1241.6 831.9 1243.6 833.2 1245.7 834.4 1247.9 835.3 1250.0 836.4 1252.5 836.0 1255.0 835.4 1257.5 835.1 1260.1 834.0 1262.6 832.6 1265.0 831.3 1268.2 831.3 1271.2 830.9 1273.8 832.1 1276.4 833.5 1279.5 834.7 1282.5 836.2 1284.9 837.3 1287.4 838.1 1289.9 838.6 1292.4 838.9 1295.0 838.8 1297.5 838.5 1300.0 839.2 1302.4 840.2 1305.0 840.0M1276.2 833.8 1276.1 836.7 1275.4 839.6 1274.9 842.5 1274.8 845.1 1274.4 847.6 1273.6 850.0 1272.7 852.4 1272.5 855.0 1272.4 857.5 1271.7 860.0 1271.4 862.5 1271.1 865.1 1270.3 867.6 1269.3 870.0 1268.6 872.5 1268.8 875.0 1268.5 877.5 1267.7 880.0 1267.5 882.5 1267.2 885.7 1266.4 888.8 1264.4 891.3 1262.5 893.7 1263.8 896.2 1265.0 898.7 1267.4 900.8 1270.0 902.5 1272.1 904.1 1273.8 906.2M1256.2 986.2 1255.4 989.5 1254.2 992.7 1252.2 994.7 1250.4 996.7 1248.9 998.9 1246.8 1000.6 1244.7 1002.2 1242.4 1003.6 1239.5 1005.3 1237.2 1007.4 1235.0 1008.0 1232.5 1008.7 1230.0 1008.9 1227.5 1008.5 1225.0 1008.1 1222.5 1007.8 1220.0 1007.3 1217.6 1006.9 1215.2 1006.4 1213.0 1004.7 1210.3 1003.4 1208.6 1002.4 1205.6 1002.7 1202.5 1002.6 1199.5 1003.0 1196.4 1003.3 1194.5 1005.1 1192.7 1007.4 1192.5 1010.0 1192.2 1012.6 1191.8 1015.1 1190.9 1017.6 1189.7 1019.9 1189.1 1022.4 1188.8 1025.0 1190.5 1027.9 1191.6 1031.1 1192.8 1033.0 1194.4 1034.7 1196.0 1036.6 1198.3 1038.7 1200.9 1040.3 1202.5 1042.0 1203.9 1043.9 1205.0 1046.3 1203.2 1049.0 1201.7 1051.7 1199.6 1053.3 1197.4 1054.2 1194.9 1054.8 1192.3 1055.8 1190.0 1057.5 1187.8 1059.1 1185.5 1060.9 1183.0 1062.6 1181.1 1064.9 1180.1 1067.3 1178.6 1069.3 1177.1 1071.3 1175.9 1073.5 1174.3 1076.1 1173.0 1078.8 1171.4 1081.4 1168.7 1082.5 1166.3 1083.8 1163.8 1085.0 1161.2 1086.6 1158.7 1088.3 1156.2 1089.9 1153.6 1090.9 1150.9 1091.8 1148.5 1093.0 1145.7 1094.3 1143.0 1095.8 1140.1 1096.8 1137.5 1096.9 1135.0 1097.3 1132.5 1098.1 1129.9 1097.4 1127.6 1096.2 1125.0 1095.8 1122.5 1097.0 1120.0 1097.4 1117.5 1097.3 1115.0 1097.8 1112.5 1098.5 1110.0 1099.0 1107.5 1099.4 1105.0 1099.7 1102.5 1099.6 1100.8 1098.1 1098.6 1096.7 1096.5 1099.0 1095.0 1101.3 1092.5 1102.1 1090.0 1102.9 1087.6 1104.1 1085.1 1104.8 1082.5 1105.4 1080.2 1106.6 1077.8 1108.1 1075.2 1109.1 1072.6 1110.2 1070.0 1111.5 1067.4 1112.8 1065.1 1114.6 1062.7 1116.3 1060.1 1117.5 1057.5 1118.8 1054.9 1120.0 1052.5 1121.5 1050.0 1123.0 1047.8 1124.3 1045.8 1126.0 1044.1 1128.0 1041.4 1130.5 1038.8 1128.9 1036.4 1127.4 1033.1 1127.5 1030.3 1127.7 1030.0 1124.6 1029.3 1121.4 1027.3 1122.2 1024.9 1122.7 1022.5 1123.1 1020.0 1123.4 1017.4 1123.7 1015.0 1124.5 1012.4 1124.4 1009.8 1123.8 1007.5 1122.5 1005.1 1121.3 1002.5 1120.5 1000.1 1119.2 997.7 1118.0 995.1 1117.0 992.7 1115.8 990.2 1114.6 987.6 1113.9 985.0 1113.1 982.5 1112.7 980.0 1112.6 977.5 1112.8 975.0 1112.4 972.6 1111.4 970.2 1110.8 968.3 1109.6 966.4 1108.2 964.8 1106.4 962.9 1104.3 960.9 1102.5 958.2 1101.9 955.4 1100.9 952.4 1100.2 950.0 1099.5 947.5 1098.8 945.0 1098.0 942.5 1097.4 940.0 1097.1 937.5 1097.2 935.0 1097.3 932.5 1096.9 930.0 1096.5 926.8 1096.8 923.7 1097.3 920.0 1098.0M1290.0 838.8 1292.6 838.5 1295.1 839.3 1297.5 840.3 1299.8 840.1 1302.2 839.8 1303.8 837.9 1305.1 835.9 1306.3 833.8 1308.4 831.4 1310.3 829.0 1311.8 826.5 1313.4 824.0 1316.0 822.8 1318.8 822.0 1321.9 821.2 1325.0 819.9 1327.0 818.9 1329.3 817.7 1329.2 814.4 1329.0 811.2 1327.8 807.3 1325.2 807.1 1323.2 807.4 1323.3 805.0 1323.3 802.5 1323.3 799.9 1324.8 796.8 1326.3 793.8 1326.3 791.2 1326.6 788.7 1327.5 786.4 1328.8 783.4 1329.3 780.1 1329.1 777.5 1329.2 774.9 1329.8 772.5 1330.4 770.0 1330.8 767.5 1331.2 765.0 1332.5 762.9 1333.4 760.6 1334.6 758.5 1336.8 756.2 1338.8 753.8 1339.9 751.2 1341.1 748.7 1341.2 746.2 1340.9 743.9 1339.5 741.9 1338.7 739.5 1338.3 736.6 1337.4 733.8 1334.4 731.6 1331.6 731.6 1328.8 731.3 1325.6 731.8 1322.5 732.5 1321.7 729.9 1320.6 727.5 1321.5 725.4 1322.5 723.3 1323.3 721.0 1324.5 719.0 1326.2 717.2 1327.5 715.3 1328.8 712.3 1330.3 709.2 1332.8 708.5 1335.2 707.8 1337.5 707.1 1340.1 706.1 1342.4 704.7 1344.9 703.5 1347.6 702.7 1350.1 701.5 1352.6 700.1 1355.0 698.9 1357.5 698.0 1360.2 697.5 1362.7 696.7 1365.1 695.5 1367.7 694.9 1370.2 693.5 1372.4 691.7 1374.9 690.2 1377.4 689.7 1380.0 689.2 1382.5 689.1 1385.6 689.5 1388.7 689.7 1391.8 690.9 1395.0 692.3 1398.7 691.4 1401.2 693.0 1403.5 695.0 1406.2 695.2 1408.8 695.0 1411.2 695.5M1275.0 906.2 1276.6 903.9 1277.7 901.5 1280.0 900.3 1282.5 899.4 1285.0 899.0 1287.5 898.1 1290.0 897.2 1292.5 897.2 1295.0 896.9 1297.6 896.7 1300.7 898.3 1303.7 900.2 1306.3 901.6 1308.0 899.5M1312.5 889.5 1315.1 888.5 1317.7 887.5 1320.0 887.0 1322.5 886.3 1325.0 885.8 1327.6 886.4 1330.2 887.2 1332.6 889.3 1334.9 891.4 1337.5 892.5 1340.2 893.4 1342.6 894.8 1344.9 896.4 1347.4 898.5 1349.9 900.6 1352.2 902.6 1354.8 904.1 1356.7 905.4 1358.3 907.1 1359.7 909.0 1361.6 911.1 1363.5 913.2 1365.1 915.4 1366.8 917.6 1367.9 921.2 1366.2 925.0 1363.1 925.6 1360.0 926.1 1356.9 926.8 1353.7 927.3 1350.6 926.0 1347.5 924.9 1343.7 924.4 1341.6 925.6 1339.8 926.9 1337.5 926.8 1334.9 926.7 1332.6 928.6 1330.3 930.4 1327.7 932.2 1325.1 933.9 1323.4 935.9 1321.3 937.8 1317.5 936.4 1314.7 937.2 1314.2 939.8 1313.4 942.2 1310.4 942.9 1307.4 944.1 1304.3 944.3 1301.0 944.6 1298.8 947.2 1296.7 949.8 1296.0 952.1 1295.4 954.5 1294.5 956.5 1293.6 958.9 1292.7 961.3 1291.9 963.7 1290.7 966.1 1290.0 968.7 1288.5 971.0 1286.6 972.8 1284.4 975.4 1282.2 978.2 1279.2 979.5 1276.4 981.0 1273.4 982.2 1270.1 982.8 1267.5 982.6 1265.0 983.1 1262.6 984.1 1259.8 984.8 1256.7 985.1 1255.5 987.8 1255.0 990.5"/>
<path stroke-width="1.6" d="M510.0 172.0 511.5 174.5 513.3 176.5 514.4 178.4 515.2 180.5 515.9 182.6 517.0 185.0 518.4 187.3 519.4 189.8 519.5 192.5 519.9 195.0 520.6 197.5 521.4 199.9 521.8 202.5 522.0 204.9 520.8 206.6 519.8 209.0 522.6 208.1 525.0 207.0 526.8 205.7 528.6 204.3 530.0 202.5 532.5 200.7 535.0 198.8M537.5 172.0 537.3 174.7 536.7 177.3 536.1 180.0 537.3 182.2 538.7 184.2 540.0 186.2 542.2 188.1 544.0 190.0 542.4 191.6 540.0 191.1 537.6 190.2 536.8 192.2 535.8 194.2 535.0 196.2M615.0 172.0 614.2 174.3 612.9 176.3 611.5 178.2 610.1 180.1 608.6 182.7 607.0 185.3 605.1 187.6 603.8 189.6 603.0 191.8 602.4 194.2 601.3 196.3 600.4 199.3 599.8 202.5 601.7 204.5 603.8 206.2 606.7 206.6 609.6 207.1 612.5 207.5 615.0 208.2 617.5 208.9 620.0 209.5 622.6 209.9 625.4 211.1 628.0 212.7 630.5 214.4 632.2 216.6 633.8 218.8 635.4 221.0 636.2 223.3 636.8 225.6 637.9 227.8 639.3 229.9 639.6 232.4 639.4 235.0 639.4 237.5 639.7 240.0 640.0 242.5 639.6 245.0 638.9 247.5 638.6 250.0 637.4 252.3 636.4 254.8 635.9 257.6 638.1 260.0 640.1 262.5 640.8 264.8 641.8 266.9 638.8 268.9 636.8 267.6 635.4 265.9 633.8 264.4 631.3 262.8 629.1 260.8 627.6 259.0 625.6 257.7 623.7 256.3 623.2 254.4 622.4 252.5 623.6 250.5 624.7 248.4 625.5 246.2 626.4 243.7 627.3 241.1 628.4 238.6 629.0 236.2 629.7 233.8 630.3 231.3 630.2 228.7 630.0 226.2 629.6 223.7 628.3 221.9 626.9 220.2 626.1 218.3 623.7 217.4 621.3 216.6 618.8 215.9 616.3 216.4 613.8 216.6 611.3 216.8 608.8 216.9 606.2 217.6 603.8 218.7 601.4 219.7 599.8 221.8 598.4 224.0 596.8 226.2 596.8 228.8 596.9 231.3 596.5 233.8 595.9 236.3 594.7 238.4 593.4 240.4 592.6 242.7 592.2 245.2 589.8 247.0 587.3 248.6 584.9 250.4 583.0 251.7 581.3 253.2 579.6 254.6 578.1 256.7 576.6 258.8 575.5 261.2 573.7 263.0 571.6 264.3 569.8 265.9 567.5 267.0 565.1 268.0 562.6 268.5 559.9 268.5 557.6 269.1 555.4 269.9 553.1 270.6 551.0 271.6 548.7 272.4 546.6 274.4 544.8 276.6 543.1 278.9 540.5 280.1 537.7 281.0 535.0 282.0M596.2 172.0 595.2 174.5 594.5 177.2 593.9 179.9 593.2 182.6 592.1 185.1 591.1 187.6 590.2 190.2 589.1 192.6 588.5 195.1 587.9 197.6 586.6 199.9 585.9 202.5 586.8 205.0 587.2 207.5 587.5 210.0 588.0 212.5 588.0 215.4 588.2 218.3 588.7 221.3 587.5 223.8 586.0 226.2 584.4 228.4 582.9 229.9 581.5 231.8 580.1 233.6 578.4 235.0 575.8 236.5 573.5 238.5 571.3 240.6 568.9 242.2 566.4 243.5 563.8 244.5 561.9 245.7 560.4 247.3 559.0 249.0 557.3 251.0 555.2 252.8 552.6 253.7 550.1 254.8 547.6 256.8 545.2 259.1 543.2 260.2 541.0 260.9 538.8 261.6 535.0 260.5M728.8 172.0 729.5 174.6 729.7 177.3 730.1 180.0 729.8 182.5 729.7 185.1 729.1 187.7 726.8 190.0 724.7 192.2 722.8 194.1 721.3 196.3 720.7 198.5 719.7 200.5 718.8 202.5M721.2 182.5 722.7 184.9 723.4 187.5 722.0 189.0 721.2 191.2M767.3 213.4 769.5 213.0 771.2 212.1 774.6 213.7 773.6 216.2 772.6 218.6 771.7 221.8 770.9 225.0 771.5 228.2 772.2 231.2 772.1 233.2 771.2 235.3 768.8 232.5 769.0 229.4 769.6 226.2 769.5 223.1 768.7 220.0 767.6 218.3 766.6 216.3ZM786.2 253.7 789.4 253.8 792.3 253.7 794.0 255.4 796.2 257.2 799.4 256.8 802.6 256.8 805.9 256.2 808.8 255.1 811.2 255.1 813.7 255.5 811.6 255.9 809.6 256.9 807.5 257.6 805.0 257.8 802.5 258.4 800.0 259.0 797.5 259.1 795.0 259.3 792.3 259.4 789.8 258.0 787.3 256.5ZM781.2 267.9 784.4 268.2 787.5 268.6 790.0 268.2 792.5 267.8 795.0 267.8 797.5 267.8 800.0 267.3 802.5 267.2 805.0 267.5 807.5 267.6 810.0 268.1 812.5 267.4 815.0 266.7 817.4 266.5 819.9 268.8 817.5 269.3 815.0 269.6 812.5 270.0 809.6 270.1 806.7 269.9 803.8 269.5 800.9 270.2 798.0 271.1 795.1 271.6 792.5 271.6 790.0 271.8 787.5 272.0 785.0 271.1 782.5 270.0ZM770.0 682.0 767.8 683.3 765.7 684.7 763.7 686.1 761.1 686.8 758.6 687.8 756.3 689.3 753.3 690.5 750.2 691.5 748.1 692.1 745.9 692.6 744.8 695.0 743.4 697.5 744.0 700.7 745.1 703.7 746.3 706.7 748.0 709.5M575.0 860.8 572.7 861.3 570.7 862.6 568.6 863.5 566.6 864.7 564.6 866.0 562.3 866.8 560.7 869.4 559.6 872.1 559.5 875.1 558.5 878.0M1217.5 236.2 1216.4 239.1 1215.3 241.9 1214.1 244.5 1214.9 246.9 1215.6 249.3 1215.5 252.0M1227.0 269.5 1228.7 271.5 1230.6 273.2 1232.6 274.9 1234.3 277.6 1235.5 280.5 1237.0 282.6 1239.0 284.4 1240.8 286.3 1242.3 288.5 1244.1 290.6 1245.9 292.5 1247.5 294.7 1249.0 297.0 1250.8 298.6 1252.4 300.4 1253.6 302.5 1255.5 304.0M1260.5 318.0 1262.6 319.7 1264.8 321.3 1267.0 322.9 1268.7 325.0 1271.2 326.7 1274.0 328.0 1276.3 329.9 1278.7 331.6 1281.3 332.9 1283.8 334.4 1286.0 335.0 1288.2 335.6 1290.4 336.4 1292.5 337.3 1295.0 338.0 1297.5 338.1 1300.0 338.8M1307.5 343.0 1310.2 343.9 1312.6 345.5 1315.3 346.5 1317.7 348.0 1319.9 350.0 1322.4 351.5 1325.1 352.3 1327.6 353.5 1330.0 355.0 1332.6 355.6 1335.2 356.5 1337.5 358.0M1370.0 427.5 1372.4 426.1 1375.0 425.0 1377.4 423.3 1379.5 421.2M535.0 260.5 531.8 260.4 529.7 259.6 527.5 259.1 525.6 258.8 523.7 258.4 521.1 255.9 519.4 254.3 516.0 252.6M535.0 282.0 533.3 280.1 531.7 278.2 529.8 276.7 527.8 275.3 525.9 274.3 523.8 273.7 521.4 272.7 519.3 271.3 517.3 270.1 515.1 269.1 513.1 266.8 511.2 264.6 509.8 262.8 508.5 261.0 507.5 258.4 507.1 255.5 508.2 253.2"/>
<path stroke-width="1.5" d="M511.1 253.7 510.3 256.2 509.7 258.8 511.2 261.3 512.4 263.9 514.3 264.6 516.3 265.0 517.2 263.0 518.3 261.2 518.0 258.8 517.5 256.2 515.6 254.7 513.7 253.1ZM522.5 263.7 524.4 264.9 526.3 266.2 528.1 265.7 530.1 265.1 531.3 262.5 529.4 261.9 527.5 261.2 525.6 261.4 523.6 261.8ZM444.7 256.1 446.1 252.8 449.5 252.3 448.9 255.6 446.3 257.6ZM391.3 532.8 393.8 532.0 396.2 531.3 398.8 533.0 396.9 534.1 395.0 535.1 391.7 534.6ZM494.5 420.4 497.1 419.3 498.1 421.8 495.7 422.8ZM316.9 567.9 318.7 566.1 321.1 567.6 322.7 569.5 320.7 570.7 318.1 569.9ZM391.9 532.3 394.1 532.1 396.2 531.6 399.1 533.0 397.5 534.9 395.2 534.8 393.1 534.8ZM396.7 582.0 400.0 581.5 401.7 582.5 403.4 583.1 402.4 585.9 400.6 586.1 398.9 586.2 397.0 584.3ZM218.9 647.0 221.3 644.9 223.7 642.9 225.8 641.8 227.9 640.6 230.1 639.7 232.3 639.0 234.5 638.1 233.7 639.7 232.9 641.5 230.5 643.3 228.0 644.9 225.3 646.3 222.5 647.6 220.6 647.0ZM201.0 682.4 202.2 680.7 203.1 678.8 204.3 677.2 205.7 675.6 206.7 673.9 207.5 672.0 205.6 671.5 205.0 673.3 204.0 675.1 202.6 676.9 201.3 678.8 199.8 681.2ZM267.9 745.2 269.0 742.6 270.1 740.1 272.0 738.9 273.8 737.6 276.3 737.7 278.7 738.1 279.9 741.2 278.3 742.7 276.5 744.0 276.0 745.7 275.4 747.3 278.0 749.9 275.7 750.7 273.7 750.8 271.7 749.9 269.9 748.9 268.9 746.8ZM336.4 635.1 338.7 632.4 342.1 633.6 342.7 637.1 339.5 638.3 336.7 637.3ZM349.2 648.1 350.1 645.1 352.0 644.5 351.6 647.6ZM389.7 661.1 391.2 658.7 394.1 658.6 395.2 662.1 392.5 663.7 390.5 663.0ZM384.8 677.0 387.4 676.2 390.0 675.4 392.8 675.6 395.7 676.0 395.8 678.1 396.1 680.0 395.1 682.0 393.9 683.8 392.9 685.6 392.0 687.7 390.5 685.8 389.4 683.8 388.4 682.0 387.2 680.3ZM400.0 678.0 402.0 675.6 405.0 676.5 405.4 679.2 403.0 680.6 400.6 679.9ZM470.8 652.2 472.2 650.5 473.8 648.8 476.3 648.5 478.7 648.0 480.6 649.0 482.5 650.1 484.3 648.4 486.3 647.0 488.8 646.9 491.2 646.6 493.0 647.4 494.9 648.0 494.4 651.3 496.6 652.1 498.6 652.5 496.2 654.8 493.8 654.7 491.3 654.8 490.4 656.3 489.2 657.4 490.8 658.4 492.7 659.6 494.8 660.4 497.0 661.2 496.2 664.4 494.4 664.7 492.5 665.0 491.3 663.5 490.0 662.0 488.1 661.1 486.2 660.0 485.1 658.0 483.9 656.1 481.9 655.0 480.0 654.0 477.6 654.7 475.0 655.1 473.2 653.7ZM505.6 653.1 507.4 650.6 509.4 650.8 511.2 651.3 511.7 653.6 509.4 654.9 506.5 654.9ZM480.0 702.5 481.8 700.8 483.4 702.1 482.4 704.3 480.4 704.3ZM506.3 720.0 506.7 718.1 507.5 716.3 509.4 715.7 511.3 714.8 513.0 716.1 514.6 717.5 514.0 719.7 513.7 722.0 512.2 723.4 510.5 724.5 507.4 723.8 506.6 722.0ZM509.4 729.5 511.2 727.3 513.3 729.2 512.0 732.1 510.0 731.5ZM158.9 863.9 160.4 861.2 162.7 862.4 161.4 864.8ZM312.5 921.3 313.4 918.8 313.9 916.4 316.2 915.0 318.7 913.7 320.1 911.7 321.2 909.6 322.4 907.4 325.0 906.8 327.4 906.1 329.0 904.4 330.7 902.8 332.6 901.3 334.6 900.8 336.7 900.2 338.8 899.6 341.2 897.9 343.7 896.2 346.3 894.6 348.7 892.9 351.2 892.7 353.7 892.5 355.8 892.6 357.9 892.9 359.8 893.3 360.4 895.1 361.3 897.0 363.3 897.3 365.4 897.7 367.5 898.0 369.6 897.7 371.7 897.3 373.8 897.2 376.3 896.7 378.8 896.0 381.5 897.7 384.0 899.7 386.4 901.7 388.7 903.8 390.8 904.7 392.8 905.6 395.0 906.3 397.5 907.4 399.9 908.9 402.0 909.8 404.2 910.4 406.3 911.2 408.4 911.2 410.5 911.3 412.6 911.7 414.6 912.7 416.6 913.5 418.6 914.1 420.7 915.1 422.9 916.0 425.0 917.0 427.1 917.3 429.2 917.5 431.3 917.5 433.4 916.9 435.6 916.2 437.6 915.3 439.6 914.8 441.7 914.3 443.8 913.7 446.3 914.6 448.7 915.5 449.3 917.5 450.0 919.5 448.1 920.9 446.1 922.2 443.6 922.7 440.9 923.4 439.8 926.8 437.5 926.7 435.0 926.4 432.9 926.7 430.8 926.9 428.8 927.2 426.3 925.9 423.8 924.4 421.3 923.9 418.8 923.5 416.6 922.5 414.5 921.4 412.4 920.1 410.4 919.5 408.3 918.6 406.3 917.9 404.2 917.1 402.0 916.5 399.9 915.8 397.8 914.6 395.7 913.4 393.7 912.2 391.6 911.4 389.6 910.6 387.5 910.1 385.4 909.4 383.3 908.6 381.2 908.2 379.1 908.0 377.1 907.4 375.0 907.0 372.9 906.7 370.8 906.5 368.7 906.3 366.7 905.6 364.6 905.1 362.5 904.7 359.4 904.7 356.3 904.5 354.1 905.3 352.0 906.4 350.1 907.7 347.7 909.7 345.1 911.4 342.6 913.3 340.1 915.3 337.5 915.7 334.9 916.2 334.2 918.7 333.5 921.2 332.3 923.0 331.1 924.9 329.3 926.4 327.4 927.9 326.2 930.2 325.1 932.5 324.2 935.1 323.1 937.5 322.9 939.6 322.7 941.7 322.2 943.9 320.0 944.9 319.3 942.4 318.3 939.9 317.8 937.4 317.3 934.9 316.5 932.9 315.7 930.8 315.0 928.8 313.8 926.9 312.3 925.1 312.2 923.1ZM319.4 948.6 322.5 947.6 325.2 949.7 326.1 952.9 323.0 953.1 320.3 951.4ZM479.5 924.8 481.6 924.8 483.8 924.4 486.3 925.9 488.6 927.7 490.4 929.6 492.5 931.3 493.7 933.0 494.7 934.7 496.6 935.6 498.6 936.5 501.1 937.8 503.7 938.8 504.9 940.8 506.0 942.9 507.2 944.9 507.6 947.5 507.8 950.0 508.0 952.5 507.5 955.1 507.1 957.8 507.0 960.5 504.6 958.9 502.3 957.2 500.7 955.8 499.3 954.1 497.8 952.7 496.0 950.6 493.9 948.7 493.1 946.7 492.6 944.7 492.3 942.5 491.6 939.7 490.7 936.9 488.5 935.2 486.5 933.5 484.6 931.4 482.7 929.4 481.1 927.2ZM344.5 1039.6 347.3 1038.8 350.0 1038.1 352.5 1037.8 355.0 1037.5 357.5 1037.4 360.0 1037.2 362.5 1037.0 365.0 1036.5 367.5 1036.3 370.0 1036.4 372.5 1036.8 375.0 1037.5 377.6 1037.9 380.1 1038.5 382.5 1039.1 385.0 1039.8 387.5 1040.5 389.7 1040.6 391.9 1040.5 394.1 1040.5 396.3 1040.5 395.0 1043.7 392.9 1043.9 390.8 1044.0 388.7 1044.4 386.9 1046.1 385.1 1047.5 384.5 1049.4 384.0 1051.5 381.3 1052.5 378.7 1053.6 376.2 1054.2 373.8 1054.6 371.2 1055.1 368.7 1054.7 366.3 1053.9 363.9 1053.4 361.8 1052.5 359.7 1051.9 357.5 1051.3 355.6 1050.1 353.9 1048.7 352.0 1047.4 349.7 1045.7 347.4 1043.8 346.0 1041.7ZM378.0 998.7 380.3 997.8 382.5 996.6 384.7 997.2 386.6 998.2 388.7 998.9 390.9 999.5 393.0 1000.2 395.0 1001.1 397.3 1002.1 399.6 1003.1 401.9 1003.8 400.9 1005.3 400.0 1007.0 397.9 1006.5 395.9 1006.1 393.9 1005.8 391.8 1005.1 389.5 1004.7 387.4 1004.1 385.3 1003.3 383.2 1002.4 381.3 1001.2 379.9 999.7ZM160.8 867.6 161.0 865.6 161.3 863.8 163.7 862.6 163.9 865.5 161.9 868.4ZM312.0 1052.5 313.9 1050.3 316.8 1050.8 317.8 1053.4 315.5 1055.5 312.4 1055.2ZM303.9 1092.7 306.5 1090.9 308.2 1090.7 309.7 1090.3 309.7 1092.3 307.0 1093.8ZM243.5 1134.9 244.1 1133.0 244.8 1131.1 246.4 1129.9 248.0 1128.8 249.4 1130.1 251.2 1131.2 251.1 1133.2 250.5 1135.1 248.0 1133.6 246.2 1136.1ZM472.7 992.8 474.3 991.1 476.2 989.8 478.3 991.1 480.4 992.1 481.2 993.8 481.8 995.4 480.2 996.5 478.7 997.9 476.6 997.6 474.4 997.1 473.5 994.8ZM513.6 991.0 515.5 989.8 517.5 988.5 520.0 989.4 522.3 990.3 523.2 992.0 524.3 993.7 523.0 995.5 521.9 997.3 519.5 997.1 516.8 996.6 514.3 993.9ZM512.4 986.1 514.5 984.4 516.9 985.5 515.5 988.0 513.0 987.9ZM174.2 1067.8 176.6 1067.8 178.9 1067.5 181.2 1066.9 183.6 1066.8 185.9 1066.7 188.6 1066.8 187.6 1070.1 185.0 1070.2 182.5 1070.3 180.0 1070.6 177.5 1070.5 174.9 1070.1ZM535.0 642.6 536.8 641.4 538.8 640.6 541.7 640.6 544.4 640.2 546.3 642.5 544.5 644.1 542.5 645.5 540.0 645.9 537.5 646.3 536.2 644.4ZM543.7 884.9 545.6 884.3 547.5 883.8 550.0 885.0 552.4 886.4 554.4 887.8 556.6 888.8 558.8 889.9 560.9 891.1 563.0 892.3 565.2 893.4 567.3 894.7 569.2 896.1 571.2 897.6 573.0 898.9 575.0 900.0 573.8 901.6 572.4 902.9 570.5 904.5 568.7 906.2 566.9 905.0 565.2 903.5 562.8 901.5 560.2 899.8 557.4 898.2 554.8 896.5 552.3 894.6 549.8 892.8 547.6 890.8 545.4 888.8 544.6 886.9ZM710.4 866.1 711.9 864.7 713.1 863.2 715.0 863.2 717.3 863.6 716.9 865.9 716.3 868.1 714.6 869.0 713.0 869.9 711.7 868.2ZM601.1 877.8 603.0 876.6 605.0 875.4 607.5 875.3 610.0 875.4 612.4 877.5 610.5 878.5 608.7 879.8 606.3 880.4 603.6 880.8ZM761.2 876.9 763.7 875.8 766.2 874.8 768.4 875.6 770.4 876.3 772.5 877.0 775.0 878.4 777.5 880.0 780.0 880.6 782.5 881.2 781.9 883.1 781.3 885.1 778.7 885.5 776.1 886.0 775.5 888.1 775.1 890.1 772.4 891.5 771.6 889.5 771.0 887.6 770.0 885.6 769.0 883.6 766.9 882.1 764.9 880.6 763.1 878.7ZM739.5 917.4 741.5 916.0 743.7 914.9 745.1 912.6 746.5 910.1 747.0 907.8 747.5 905.5 750.0 906.1 752.4 906.5 754.9 907.3 757.4 908.1 757.8 910.0 758.3 912.0 756.7 913.6 755.0 915.1 753.1 914.4 751.3 913.8 750.2 915.8 749.0 917.7 747.7 920.1 746.3 922.5 744.3 923.7 742.5 924.9 740.0 923.8 739.9 921.7 739.8 919.6ZM749.6 909.1 753.0 907.5 754.8 908.6 756.4 910.0 755.5 911.9 754.6 913.9 752.5 913.4 750.4 913.1 749.8 910.9ZM763.0 917.5 764.7 915.3 766.2 912.9 768.7 912.7 771.2 912.6 770.6 915.0 769.9 917.5 768.7 919.3 767.2 921.2 768.6 923.2 770.0 925.0 771.7 927.0 773.4 929.0 773.8 930.7 774.4 932.4 771.2 932.6 770.0 930.6 768.9 928.7 768.0 926.2 767.0 923.8 765.4 922.5 763.9 921.2 763.4 919.4ZM625.4 928.6 627.3 927.7 629.3 926.9 631.2 926.1 633.8 926.0 636.3 925.8 638.7 925.6 638.1 927.7 637.5 930.0 635.5 931.8 633.7 933.7 632.0 935.2 630.0 936.4 628.7 934.4 627.5 932.5 626.3 930.7ZM631.5 941.6 633.8 939.8 636.0 941.3 634.4 943.6 632.0 943.5ZM587.1 975.1 589.1 973.6 591.3 972.6 593.8 971.7 596.2 970.3 598.3 969.9 600.7 970.0 598.9 973.1 596.4 974.3 593.8 975.2 591.2 975.8 588.8 976.7ZM855.6 896.9 857.2 895.7 858.7 894.5 860.6 895.1 862.4 895.5 862.0 898.0 859.7 898.2 857.5 898.4ZM893.6 1001.7 895.6 1000.7 897.5 999.5 899.4 1000.3 901.3 1001.2 902.1 1003.1 902.9 1004.9 900.9 1004.9 898.8 1004.8 896.9 1004.2 895.2 1003.5ZM743.4 1059.8 744.3 1058.0 745.4 1056.2 748.0 1055.0 747.8 1056.9 747.5 1058.8 745.6 1061.7ZM591.5 1103.9 592.8 1101.2 594.4 1098.7 595.6 1097.0 596.3 1095.3 598.3 1096.4 600.4 1097.6 603.4 1098.6 606.3 1099.5 607.5 1101.0 608.9 1102.4 609.1 1104.4 609.0 1106.2 606.4 1105.3 603.7 1104.5 601.7 1104.0 599.6 1103.7 597.5 1103.5 595.2 1104.2 593.0 1105.0ZM752.5 837.5 754.2 835.4 756.1 833.5 758.3 833.1 760.3 832.6 762.4 832.2 764.9 831.3 767.5 830.4 768.8 832.1 770.2 833.7 769.4 836.3 768.7 838.8 771.3 839.3 773.8 839.9 775.3 841.3 776.9 842.5 775.4 843.8 773.7 844.9 771.3 844.6 768.7 844.5 767.4 846.6 766.2 848.6 763.7 849.9 761.3 851.3 758.7 850.9 756.1 850.2 755.1 847.7 753.9 845.4 752.9 843.4 752.0 841.3 752.0 839.3ZM722.8 845.8 724.5 843.4 727.9 844.1 728.8 846.8 726.0 848.3 723.3 847.4ZM1166.4 676.3 1168.0 673.2 1169.6 676.3ZM1051.4 817.6 1052.5 814.5 1054.6 813.7 1054.0 817.0 1052.0 819.0ZM924.8 843.8 924.3 841.7 923.6 839.6 922.8 837.5 923.0 835.0 923.2 832.5 923.6 830.0 924.2 827.5 924.5 825.0 925.0 822.5 925.6 820.0 926.0 817.5 926.4 815.0 927.1 812.7 927.8 810.3 928.8 808.0 930.7 807.7 932.6 806.9 933.2 809.1 933.6 811.3 933.4 813.4 933.1 815.5 932.6 817.5 932.7 820.0 932.7 822.5 932.6 825.0 932.0 827.4 931.5 829.9 931.0 832.4 930.6 834.5 930.3 836.6 930.1 838.8 929.1 841.1 927.7 843.3ZM1289.7 863.9 1291.0 861.2 1292.5 858.7 1294.3 856.4 1295.9 854.0 1297.1 851.4 1298.4 849.0 1300.2 846.1 1301.2 847.3 1302.5 848.7 1303.0 851.3 1303.8 853.8 1302.7 856.4 1301.3 858.8 1299.6 861.2 1298.2 863.9 1297.0 866.4 1295.6 868.8 1295.3 871.3 1294.8 874.0 1291.8 874.8 1291.9 872.2 1292.4 870.0 1291.4 868.4 1289.9 867.0ZM1246.5 1136.5 1248.8 1134.1 1251.8 1135.0 1250.7 1138.2 1247.4 1138.3ZM1303.7 852.7 1305.7 852.6 1307.5 852.0 1310.2 853.7 1308.9 855.3 1307.8 856.7 1305.9 857.2 1303.7 857.5 1303.9 855.2ZM1307.2 898.6 1308.4 895.9 1309.6 893.0 1311.0 891.5 1312.5 890.1 1313.5 892.0 1314.8 893.8 1314.4 896.3 1313.7 898.7 1311.9 899.8 1310.5 901.1 1308.9 900.1ZM1319.4 972.6 1321.3 969.5 1324.5 967.9 1326.3 970.8 1324.5 974.0 1321.2 974.5ZM1313.6 1047.4 1314.8 1045.7 1315.9 1043.8 1318.0 1041.6 1319.1 1043.3 1319.9 1045.0 1318.7 1048.0 1315.5 1048.7ZM530.9 262.9 533.0 260.8 535.0 260.8 536.9 260.7 538.6 262.6 537.8 265.4 536.0 265.9 534.0 266.2 532.6 264.5ZM550.5 222.6 553.0 221.6 556.0 223.0 557.9 224.4 559.8 225.8 561.2 229.1 558.0 230.8 554.4 229.6 553.0 228.2 551.8 226.6 551.1 224.6Z"/>
<path stroke-width="1.9" d="M995.0 802.6 997.6 802.3 1000.1 801.6 1003.1 800.7 1006.3 800.2 1008.5 799.3 1010.4 798.0 1012.3 796.6 1014.2 795.0 1016.6 793.9 1018.8 792.5 1020.8 791.2 1022.8 789.9 1025.0 788.7 1027.3 787.4 1029.5 785.8 1031.5 784.0 1033.1 781.8 1034.6 779.6 1036.4 777.7 1038.5 775.6 1040.4 773.3 1042.5 771.3 1044.8 769.4 1046.9 767.3 1048.7 765.0 1050.5 763.0 1052.4 761.1 1053.9 758.9 1055.2 756.5 1056.9 754.4 1058.9 752.6 1060.6 750.9 1062.1 748.9 1063.5 746.9 1065.2 745.1 1067.0 743.5 1068.3 741.4 1069.5 739.2 1070.9 737.2 1072.7 734.8 1074.6 732.5 1076.4 730.1 1077.7 727.6 1078.9 725.1 1080.3 722.6 1081.3 720.1 1082.0 717.5 1083.1 715.0 1084.2 712.6 1084.8 710.0 1085.3 707.4 1086.2 705.0 1087.2 702.5 1087.9 700.0 1088.6 697.5 1089.4 695.0 1089.9 692.5 1090.6 689.9 1091.8 687.5 1092.8 685.1 1092.9 682.5 1093.3 680.0 1094.0 677.6 1094.5 674.4 1094.7 671.1 1096.2 668.6 1098.0 666.2 1099.6 665.0 1101.2 663.6 1105.1 663.6 1107.4 666.3 1107.1 669.4 1107.2 672.5 1107.0 675.0 1106.1 677.5 1105.9 680.0 1106.2 682.5 1105.8 685.0 1105.4 687.5 1105.7 690.0 1105.7 692.5 1105.8 695.0 1106.3 697.5 1106.9 700.0 1107.4 702.5 1107.2 705.0 1107.0 707.6 1106.8 710.1 1106.1 712.5 1105.2 715.0 1104.7 717.4 1103.8 719.9 1102.8 722.3 1102.3 724.9 1101.9 727.1 1101.2 729.2 1100.5 731.3 1098.0 733.6 1097.5 731.7 1096.5 730.0 1096.7 728.1 1097.3 726.8 1095.3 727.8 1093.9 730.1 1092.6 732.6 1091.4 735.1 1090.3 737.4 1092.7 739.6 1094.3 739.2 1096.2 738.8 1095.6 740.6 1095.1 742.6 1093.1 744.4 1091.2 746.2 1089.4 748.1 1087.4 749.9 1085.3 752.2 1083.5 754.8 1082.0 757.6 1080.3 760.3 1077.7 762.2 1075.3 764.1 1072.7 765.9 1070.0 767.5 1067.9 768.6 1065.8 769.9 1063.6 771.1 1061.2 773.1 1058.7 774.9 1056.0 776.6 1053.6 778.5 1051.2 780.6 1048.7 782.4 1046.5 784.7 1044.7 787.3 1043.8 789.6 1042.6 791.7 1041.2 793.7 1039.5 795.4 1038.0 797.2 1036.4 798.9 1034.2 800.0 1031.9 801.0 1029.9 802.3 1027.9 803.3 1025.9 804.2 1023.8 805.0 1021.7 805.8 1019.7 806.9 1017.7 808.0 1015.5 808.3 1013.2 808.4 1011.2 809.1 1008.1 808.9 1005.0 808.7 1002.2 807.7 999.3 806.5 997.3 804.4ZM1054.9 756.2 1057.4 754.2 1060.0 752.5 1062.6 750.7 1065.1 748.9 1067.5 746.9 1070.0 745.0 1071.9 744.0 1073.5 743.2 1073.4 746.1 1071.9 748.2 1070.1 750.1 1067.6 751.6 1065.0 753.0 1062.4 754.1 1060.1 755.7 1058.4 757.0 1056.2 758.1Z"/>
<path stroke-width="2.1" d="M303.8 172.0 301.7 173.2 300.2 175.0 298.9 176.9 297.3 178.5 294.7 180.0 292.5 182.0 290.4 184.3 288.5 186.5 286.0 188.0 287.6 190.3 289.6 192.4 291.5 193.5 293.2 195.0 294.8 196.8 297.6 197.3 300.3 197.5 302.9 197.8 305.4 198.1 307.7 199.1 310.0 199.8 312.5 199.9 314.6 199.2 316.8 198.8 318.9 197.9 321.2 196.4 323.8 195.4 326.5 194.8 328.9 193.4 331.1 191.7 333.6 190.7 336.3 190.8 338.8 190.7 341.2 190.1 343.5 190.4 345.7 191.3 347.5 192.1 348.8 194.0 350.7 196.2 350.5 199.5 349.7 202.6 347.9 205.0 346.3 207.4 344.9 209.3 343.7 211.4 342.9 213.8 342.3 216.1 342.1 218.4 341.1 220.4 339.2 222.5M420.0 420.0 417.9 417.7 416.2 415.0 415.6 412.9 414.8 410.8 413.8 408.7 413.3 405.8 413.0 402.9 413.1 399.9 412.7 397.4 411.7 395.0 411.3 392.5 411.0 390.1 410.5 387.5 409.8 384.9 408.4 382.6 407.2 380.3 406.2 377.8 405.5 375.3 404.6 373.2 403.2 371.2 402.0 369.0 401.2 366.7 399.8 364.7 398.4 362.6 398.2 360.0 398.1 357.5 397.5 355.0 397.4 352.5 397.3 349.9 396.5 347.5 395.4 345.1 395.0 342.6 394.8 340.0 395.9 337.3 397.4 334.9 400.2 334.2 402.7 332.9 404.9 331.1 407.3 329.6 409.8 328.3 412.3 327.2 414.3 325.2 416.2 322.8 418.1 320.6 419.8 318.7 421.8 316.8 423.6 314.9 425.5 313.0 427.5 311.2 428.6 308.2 429.2 305.1 429.5 302.6 429.7 300.0 429.7 297.4 430.3 295.0 431.0 292.5 431.2 290.0 432.3 288.0 433.6 286.2 433.5 283.8 433.1 281.2 434.7 279.2 436.5 277.4 438.1 275.5 439.6 273.2 440.6 270.6 441.9 268.3 443.8 266.7 445.9 265.2 447.5 263.4 449.0 261.4 450.5 259.2 452.3 257.3 454.1 255.4 455.9 254.3 457.9 253.3 460.1 252.8 462.4 252.4 464.4 251.5 466.3 250.0 468.3 247.5 470.6 245.4 472.5 244.1 475.0 243.0 477.6 244.8 480.0 245.9 483.8 245.1 485.5 247.3 487.3 249.0 489.2 250.8 491.2 252.6 493.2 252.8 495.0 253.5 496.9 252.6 498.7 251.1 501.2 250.4 503.8 250.4 506.0 251.5 508.3 252.0 511.2 253.8M420.0 420.0 422.3 421.5 424.2 423.3 425.3 425.4 426.4 427.5 427.0 430.6 427.6 433.8 426.5 435.9 425.3 437.8 424.9 439.9 424.4 442.2 423.4 444.2 422.3 446.2 421.5 448.2 420.6 450.3 420.1 452.5 419.5 455.0 418.7 457.5 416.9 458.8 415.0 459.9 412.5 460.4 409.9 461.1 407.6 462.6 405.4 464.5 403.0 465.9 400.5 467.1 398.6 468.2 396.8 469.2 395.6 471.5 394.0 474.0 391.8 475.6 390.1 477.6 388.6 479.9 386.8 481.7 385.0 483.2 383.5 484.7 381.7 486.0 380.2 487.8 378.3 489.6 376.1 491.1 374.2 492.3 372.1 493.2 369.3 495.7 368.4 497.9 367.5 500.0M420.0 420.0 422.6 419.0 425.0 417.7 427.5 417.8 430.1 418.0 432.5 418.5 435.1 418.8 437.6 419.1 440.1 419.5 442.7 420.3 445.1 421.2 447.4 422.8 449.8 423.8 452.5 424.1 455.0 425.0 457.5 425.9 460.0 426.6 462.4 427.7 465.0 428.4 467.6 428.9 470.1 429.7 472.4 431.4 474.6 433.3 477.1 434.7 479.8 435.1 482.4 435.8 484.8 437.0 487.2 438.1 489.8 438.5 492.6 438.6 495.2 439.6 497.7 440.9 500.0 442.5 502.4 443.7 505.0 444.3 507.7 444.6 510.3 445.6 512.7 447.1 514.8 449.1 517.1 450.9 519.8 451.6 522.7 452.1 525.0 453.1 527.0 454.5 529.0 455.9 531.1 457.6 533.1 459.4 535.0 461.2M412.5 438.8 415.1 438.7 417.5 439.4 419.3 438.8 421.2 438.2M415.5 431.5 417.8 431.8 420.0 432.5M388.8 349.5 391.5 351.2M390.5 364.5 393.8 366.5M399.5 390.0 400.7 391.5 402.0 393.0M341.2 433.8 342.3 435.7 343.6 437.7 345.5 438.7 347.2 440.0 348.6 441.2 350.5 442.0M218.8 368.8 217.7 371.6 217.6 374.5 217.1 377.4 216.1 379.5 215.1 381.7 213.6 383.5 211.8 384.2 210.2 385.5 208.6 386.9 206.8 388.1 205.8 389.9 204.5 392.0 202.4 393.2 199.8 394.4 197.5 392.0 197.3 393.9 196.0 396.1 193.6 398.3 192.0 397.8 189.8 397.1 187.4 399.8 183.8 399.4 180.0 400.1 177.5 399.5M196.2 396.2 197.7 398.0 198.8 399.6 201.2 398.8M187.5 400.0 186.6 403.1 186.1 406.2 185.8 408.8 185.4 411.3 184.4 413.8 183.6 416.2 184.8 418.0 185.7 420.0 184.9 422.6 184.2 425.1 183.8 427.7 182.9 430.1 182.2 432.5 182.0 435.0M188.8 417.5 191.3 418.7 193.8 420.0M160.0 416.2 161.2 418.6 161.5 421.3 160.6 424.0 159.3 426.4 158.9 428.8 159.2 431.2 158.1 433.3 156.2 435.0M174.5 720.0 175.5 717.4 177.0 715.0 178.5 713.3 179.8 711.4 181.2 708.0M283.0 738.0 286.4 736.3 289.0 739.0M292.5 743.8 293.7 745.5 294.8 747.4 295.5 750.0M373.0 653.8 373.0 651.0 375.1 650.1 377.0 650.0M392.0 799.2 393.6 798.1 395.5 797.5 398.7 797.1 400.8 800.0M366.2 501.2 367.1 499.1 368.3 497.1 370.5 496.1 372.5 495.0 374.3 493.3 376.1 491.8 378.8 490.0M717.5 172.0 718.1 174.7 717.6 177.4 716.6 179.9 715.6 182.3 714.7 184.8 712.7 186.4 710.9 188.7 712.4 191.3 713.4 193.9 714.6 195.9 716.4 197.4 718.1 199.7 719.4 202.3 719.4 205.6 719.7 208.8 721.4 211.2 722.3 213.9 723.6 216.0 725.5 217.5 727.4 219.0 730.1 218.6 732.7 218.0 735.1 216.5 737.5 215.1 740.1 216.0 742.9 217.1 744.6 219.9 746.2 222.5 747.1 225.6 747.6 228.8 746.0 230.6 744.8 232.5 744.3 234.8 744.6 237.5 744.6 240.1 744.0 242.5 744.0 245.0 744.3 247.5 744.5 250.0 745.1 252.5 746.1 254.9 746.8 257.5 745.9 260.0 745.3 262.5 745.2 265.0 744.3 267.5 743.4 270.0 743.0 272.7 742.3 274.9 740.9 276.7 739.8 278.7 739.3 280.9 738.7 283.1 737.9 285.1 737.7 287.5 737.8 290.0 738.0 292.5 738.0 295.0 738.3 297.5 738.9 300.0 738.5 302.5 738.5 305.1 737.9 307.7 735.3 309.7 733.2 312.0 731.8 313.7 730.4 315.1 731.4 316.4 732.5 318.0 735.0 319.1 737.3 320.2 739.3 321.5 741.1 323.1 742.3 325.1 742.7 327.6 743.6 330.1 745.1 332.5 746.2 335.0 746.9 337.8 748.1 340.1 747.9 342.2 747.5 344.5M747.5 344.5 746.6 347.1 746.2 349.8 746.3 352.5 745.8 354.7 744.8 356.8 744.5 359.1 744.1 361.4 743.1 363.8 742.4 366.3 741.7 368.9 740.5 371.4 738.9 373.7 737.6 376.1 736.8 378.7 735.8 381.2 735.0 383.8 734.2 386.3 733.3 388.7 732.7 391.3 731.7 393.8 730.9 396.3 730.2 398.8 728.9 400.7 727.7 402.6 727.1 404.8 726.7 407.1 725.8 409.2 725.0 411.2 724.4 413.3 723.6 415.4 723.0 417.5 724.3 420.2 726.0 422.6 728.6 424.7 730.8 426.9 732.0 429.1 732.8 431.5 733.6 433.8 734.8 436.4 735.8 439.0 737.3 441.3 738.9 443.7 740.3 446.5 742.0 449.0 743.2 450.6 744.0 452.5M747.5 344.5 750.1 343.5 752.8 342.6 755.1 341.3 757.5 339.8 760.1 339.7 762.7 339.9 764.5 341.7 765.9 343.4 767.4 345.2 769.2 346.6 771.2 348.0 772.7 349.9 773.1 352.2 774.0 354.2 774.9 356.3 773.9 359.1 773.7 362.0 773.8 365.0 774.1 367.5 774.1 370.1 774.5 372.7 775.9 374.8 777.1 376.9 778.6 378.9 780.5 381.3 782.5 383.8 784.4 385.6 786.1 387.6 788.9 388.5 791.4 389.7 793.7 391.0 796.2 392.1 798.0 393.2 800.0 394.0M781.2 237.5 784.4 236.6 787.5 235.4 790.1 236.4 792.3 237.9 794.7 239.3 797.5 240.1 799.7 240.5 801.2 242.0M805.0 248.8 807.6 248.3 810.0 247.8 813.1 247.4 816.2 247.0M781.2 267.5 783.1 268.4 785.0 269.0M838.8 242.5 840.2 244.9 841.9 247.1 843.3 249.2 844.9 251.4 848.0 253.0M810.0 289.5 812.4 287.7 814.3 285.6 816.5 283.5 818.7 281.2 820.3 278.5 821.9 275.8 823.9 273.4 826.3 271.3 829.0 270.5 831.3 269.2 833.5 269.5 835.6 270.6 838.0 270.5M818.8 312.0 821.1 310.6 822.8 308.7 824.2 306.9 825.8 304.8 825.5 301.2M835.0 311.2 835.1 314.2 834.7 317.2 834.1 320.0 834.4 322.6 835.2 325.1 836.6 327.4 837.9 330.0 838.0 333.0M847.5 316.2 848.5 318.2 849.3 320.3 849.4 322.5 850.2 325.1 851.2 327.5M624.5 375.0 628.1 376.1 630.0 375.9 632.0 376.2M581.2 461.0 583.8 462.5M535.0 458.8 536.0 461.0 537.3 463.1 539.0 464.8 540.7 466.9 542.6 468.7 544.3 470.7 546.5 472.8 548.7 475.0 549.7 477.3 551.0 479.3 552.7 481.1 554.4 482.7 556.0 484.4 558.0 485.9 559.0 487.9 560.0 490.0M912.5 176.2 914.3 174.5 916.3 173.2 920.0 172.5M558.8 490.0 560.1 491.8 561.1 493.8 562.8 496.3 564.1 498.9 564.1 501.9 564.8 505.1 566.4 507.0 567.8 509.0 569.1 511.0 571.0 512.8 572.7 514.9 573.9 517.3 576.1 519.6 578.5 521.6 580.4 522.9 582.2 524.5 583.5 526.4 585.1 528.6 587.1 530.4 588.7 532.5 589.9 535.0 591.3 537.3 593.3 539.0 594.9 541.1 596.0 543.6 596.8 546.0 598.5 547.9 600.1 550.0 601.5 552.3 603.0 554.5 604.7 556.6 606.3 558.7 608.6 560.8 611.2 562.6 612.8 564.3 614.4 566.0 615.9 567.7 616.4 570.2 617.1 572.8 618.3 575.2 620.1 577.0 621.2 579.2 622.0 581.6 623.6 583.3 625.6 584.5 627.5 586.0 627.5 589.4 627.3 592.6 628.0 595.8 629.3 598.8 631.3 601.2 632.9 603.8 633.0 606.3 633.6 608.7 632.9 610.8 631.5 612.7 630.3 614.5 628.8 617.1 627.5 620.0 626.0 622.8 624.2 625.3 622.4 627.2 621.0 629.3 620.0 631.8M549.7 697.3 551.6 695.8 552.8 694.0 554.4 692.3 556.3 690.6 558.5 689.5 560.7 688.5 562.9 687.5 565.1 686.4 567.0 685.2 569.2 684.6 571.5 684.2 573.4 682.6 575.3 681.1 577.5 680.0 579.6 678.7 581.5 677.3 583.7 676.1 586.1 674.6 588.7 673.5 592.3 674.9 594.0 676.8 591.2 677.9 588.9 679.4 586.7 680.5 584.5 681.3 582.1 681.8 579.8 682.6 577.8 683.8 575.7 684.8 573.6 686.0 571.5 687.0 569.1 687.6 566.8 688.3 564.6 689.7 562.3 690.9 560.0 691.9 558.4 693.5 556.5 694.6 554.3 695.2 552.2 696.3 550.4 697.6ZM772.5 676.2 771.5 678.3 770.2 680.2 768.4 681.6 766.3 682.6 763.6 683.8 761.0 685.0 759.0 685.8 757.2 687.2 755.2 688.1 751.9 688.2 748.7 688.3 746.1 689.0 744.0 690.3 743.2 692.9 741.7 695.1 740.6 697.5 739.9 700.1 741.3 702.7 743.0 705.0 744.7 707.5 745.8 710.2 747.2 712.6 749.1 714.9 749.2 718.1 749.1 721.2 748.8 723.8 748.5 726.4 748.1 728.8 747.5 731.2M749.5 721.2 751.9 722.1 754.0 723.4 756.2 725.0M770.0 680.0 772.0 680.1 773.9 681.1 775.5 683.8M657.5 786.2 659.8 786.0 662.3 785.1 662.9 787.7 663.2 790.0 663.0 793.1 662.7 796.2 663.7 798.0 664.5 800.0M561.2 842.0 563.7 843.4 566.3 844.2 568.3 843.3 570.5 842.5 572.6 841.3 574.5 840.0M566.2 844.5 568.0 846.0 569.1 847.9 570.2 849.9 571.2 851.8 572.3 853.8 573.6 855.6 575.6 857.2 577.5 858.7 581.2 859.5M577.5 858.8 574.7 859.4 572.3 860.8 570.3 861.9 568.4 863.0 566.2 863.7 564.1 864.4 562.3 865.9 560.4 866.7 558.5 868.8 557.4 871.4 556.8 873.9 555.8 876.3 556.2 878.7 556.4 881.1 558.0 882.4 559.9 883.3 562.3 882.7 564.5 883.2M893.0 882.5 895.3 882.8 897.4 883.9 898.8 885.3 900.5 886.2M943.8 172.0 945.7 173.2 947.5 174.5 949.3 175.6 951.2 176.2M1220.0 172.0 1219.4 174.8 1218.8 177.5 1217.4 180.1 1215.8 182.5 1215.5 185.0 1215.1 187.5 1214.7 190.0 1215.0 192.6 1215.3 195.1 1215.7 197.5 1214.8 199.8 1214.2 202.3 1213.9 204.9 1213.8 207.5 1213.8 210.2 1213.1 212.5 1213.0 215.0 1213.4 217.6 1214.1 220.1 1215.0 222.5 1216.0 224.9 1216.6 227.4 1217.0 229.9 1217.4 232.4 1217.9 235.0 1217.2 237.3 1216.7 239.5 1216.0 241.7 1214.8 243.7 1214.9 246.3 1215.6 248.8 1216.2 251.3 1217.3 253.7 1218.3 256.1 1219.1 258.6 1220.3 260.7 1221.7 262.6 1222.8 264.8 1223.8 267.4 1225.2 269.6 1227.1 271.5 1228.9 274.1 1230.9 276.5 1232.8 278.2 1234.4 280.0 1235.4 282.2 1236.7 284.2 1238.4 286.0 1240.2 287.7 1241.8 289.6 1243.2 291.5 1244.7 293.5 1245.9 295.6 1247.4 297.6 1249.8 299.4 1252.2 301.1 1254.1 303.5 1254.7 306.0 1256.0 308.1 1257.9 309.8 1258.6 312.0 1258.9 314.3 1260.0 316.2 1261.9 318.1 1263.6 320.2 1264.8 322.7 1266.4 325.2 1268.7 327.1 1271.2 328.8 1273.4 330.0 1275.3 331.5 1277.2 333.0 1279.8 334.1 1282.7 334.6 1285.4 335.4 1287.7 336.5 1290.0 337.8 1292.5 338.9 1295.0 339.5 1297.4 340.0 1300.0 340.0 1302.8 340.7 1305.0 342.5M1305.0 342.5 1305.3 345.1 1304.3 347.5 1303.8 350.0 1303.0 352.1 1302.1 354.2 1301.5 356.4 1299.7 358.0 1297.9 359.6 1296.3 361.4 1293.1 361.7 1290.0 362.4 1287.8 362.3 1285.6 361.8 1283.7 361.0 1280.7 361.4 1277.5 361.3 1274.9 361.0 1272.4 361.7 1270.2 363.0 1267.9 364.9 1265.0 366.3 1263.2 368.8 1261.6 371.8 1258.3 372.6 1255.1 372.8 1252.5 373.5 1250.2 374.7 1247.7 375.4 1244.9 376.8 1242.4 378.6 1240.4 379.7 1238.3 380.4 1236.1 381.0 1233.9 383.3 1231.8 385.6 1230.4 387.5 1228.9 389.2 1228.0 391.0 1227.0 393.0 1223.7 391.5 1221.5 392.7 1218.8 393.3 1216.5 393.2 1214.3 393.4 1212.2 394.3 1209.8 396.7 1207.0 398.0M1137.5 540.0 1139.1 537.3 1141.1 534.9 1143.3 533.2 1145.1 531.2 1146.6 529.0 1148.2 526.4 1149.7 523.8 1151.2 521.2 1152.4 518.7 1153.4 516.1 1154.6 513.6 1156.0 511.3 1156.8 508.8 1157.5 506.2 1159.2 504.4 1160.6 502.4 1161.6 500.4 1163.5 498.8 1165.4 496.9 1167.4 495.4 1170.0 495.0 1172.5 494.5 1175.0 494.0 1178.1 494.5 1181.2 494.8 1183.8 495.6 1186.4 496.6 1189.4 497.7 1192.4 499.1 1195.5 499.9 1198.5 500.5 1201.0 502.2 1203.6 503.9 1205.3 505.8 1207.2 507.5 1208.8 509.4 1211.2 511.3 1213.8 512.9 1215.9 513.5 1217.9 514.3 1220.0 515.1 1222.1 515.7 1224.3 516.2 1226.3 517.0 1229.9 516.9 1231.8 514.3 1233.0 511.6 1234.3 509.7 1236.1 508.2 1237.9 506.6 1239.2 503.6 1240.9 501.0 1243.1 499.1 1244.9 496.8 1247.5 496.3 1249.9 495.8 1252.3 495.7 1255.0 494.3 1257.4 492.4 1258.9 490.2 1260.9 488.5 1262.3 486.3 1263.3 483.9 1265.1 482.0 1266.6 479.9 1268.3 478.7 1270.4 477.8 1272.4 476.8 1274.8 475.8 1277.3 475.1 1279.8 474.4 1282.5 474.2 1285.1 474.2 1287.7 473.7 1290.2 473.2 1292.7 472.7 1295.2 471.9 1297.6 471.1 1300.1 470.5 1302.6 469.6 1305.0 468.8M1263.0 490.0 1266.1 487.4 1270.3 488.2 1271.7 490.3 1273.2 492.2 1273.0 495.5M1304.5 343.8 1307.1 345.3 1309.9 346.4 1312.5 347.5 1315.0 348.7 1317.4 350.2 1319.8 351.6 1322.2 353.0 1325.0 353.8 1327.8 354.2 1330.4 355.0 1332.8 356.2 1335.1 357.4 1337.6 358.5 1340.0 359.2 1343.1 359.1 1346.3 359.0 1348.7 357.3 1351.2 356.0 1354.4 356.5 1357.5 356.3 1360.0 356.3 1362.5 356.7 1365.0 357.1 1367.6 356.6 1370.1 356.0 1372.6 355.5 1375.0 354.9 1377.5 354.2 1380.2 354.1 1382.9 352.4 1385.1 350.3 1387.6 350.0 1390.0 349.3 1392.3 348.2 1394.7 346.9 1397.2 345.7 1399.9 344.9 1402.4 344.2 1404.6 343.2 1406.4 341.6 1408.6 339.7 1411.2 338.8M1357.5 356.2 1359.4 357.5 1361.3 358.7 1362.9 361.4 1364.9 363.8 1367.2 365.4 1368.8 367.6 1370.0 370.0 1371.8 372.0 1373.8 373.8 1375.1 376.2 1376.2 378.7 1378.0 380.7 1380.3 382.3 1381.2 384.9 1381.7 387.6 1382.9 390.0 1383.7 392.9 1384.2 395.9 1384.6 398.8 1384.4 401.6 1384.7 404.6 1384.6 407.5 1383.6 409.9 1383.1 412.5 1382.5 415.0 1381.5 417.6 1380.4 420.2 1378.7 422.5 1376.3 423.7 1374.5 425.7 1372.8 428.0 1370.3 429.4 1367.6 430.2 1365.0 431.2 1363.2 433.2 1361.2 435.0 1358.9 436.6 1357.0 437.8 1354.8 438.5 1352.4 438.6 1350.4 439.6 1348.4 440.7 1346.2 441.1 1344.0 442.7 1342.0 444.5 1340.0 446.2 1338.1 447.6 1336.5 449.4 1335.1 451.3 1333.4 453.0 1332.0 454.9 1330.4 456.7 1327.9 457.9 1325.8 459.5 1323.7 461.2 1321.6 462.3 1319.5 463.5 1317.2 464.4 1314.6 465.1 1312.1 466.1 1309.7 467.2 1307.6 468.1 1305.5 469.2M1132.5 548.8 1133.1 546.6 1133.6 544.5 1134.5 542.5 1135.8 540.0 1136.7 537.4 1137.5 535.0M1134.5 543.0 1137.0 541.1 1139.0 542.5M951.2 657.0 954.4 656.6 957.5 656.2 960.1 656.5 962.7 656.3 965.0 655.9 966.8 656.7 968.9 657.1 971.2 657.0 972.6 659.7 973.5 662.6 974.8 664.5 975.9 666.5 976.3 668.7 977.3 670.9 979.0 672.6 980.1 674.8 980.2 677.5 980.8 679.9 981.2 682.5 980.9 685.1 980.6 687.6 979.7 690.0 978.9 692.5 979.2 695.0 979.3 697.5 979.2 700.0 979.6 702.5 980.2 704.9 981.1 707.9 981.8 711.2 981.1 714.5 980.4 717.6 979.4 720.6 979.0 723.8 980.5 726.2 981.3 728.7 982.0 731.5 983.3 734.0 984.4 735.9 985.7 737.8 986.9 739.9 987.2 743.1 987.1 746.2 986.0 749.3 985.3 752.4 985.7 755.2 986.2 758.0M951.2 657.0 950.1 659.7 949.7 662.5 950.9 664.8 951.5 666.9 952.9 665.9 954.8 664.7 957.3 662.2 959.3 661.7 961.2 661.3 963.8 661.8 966.2 662.5M951.2 667.5 948.1 667.5 945.0 668.0 942.6 667.5 940.5 666.2M951.2 667.5 952.0 670.6 952.4 673.8 954.3 675.0 956.2 676.5 958.3 676.2 959.8 675.3 962.0 677.4 963.6 680.0 962.9 682.4 963.0 685.0 963.3 687.6 962.4 689.8 961.3 691.8 959.9 693.6 957.5 696.2M950.0 682.5 951.8 683.2 953.7 683.6 955.5 682.7 957.5 682.0M977.5 715.0 979.6 717.1 981.8 719.0 984.0 721.1 985.7 723.5 987.5 725.0M975.5 736.2 977.7 736.9 980.1 737.9 982.4 736.1 983.8 733.8M986.2 740.0 988.7 740.8 991.3 741.1 992.8 742.9 993.8 745.0M932.5 690.0 933.3 686.9 936.2 686.8 938.8 687.4 941.3 687.7 943.8 686.8M950.0 658.0 951.2 655.0M957.5 657.0 958.0 653.8M965.0 655.5 965.8 652.5M971.2 657.0 973.0 654.2M1006.2 783.0 1007.3 785.1 1008.5 787.0 1009.8 788.9 1011.4 791.3 1013.2 793.6 1016.2 795.0M1178.8 774.2 1180.4 771.9 1183.0 770.5M930.5 1019.5 932.8 1019.6 935.0 1019.6 937.0 1019.8 939.0 1020.0M1338.5 1133.8 1341.5 1134.7 1344.0 1133.2"/>
</g>
<g fill="none" stroke="#000" stroke-width="1.39" stroke-dasharray="1.39 1.39">
<path d="M-765.3 433.2 -753.2 451.9 -740.7 470.4 -727.8 488.6 -714.6 506.6 -701.1 524.4 -687.2 541.9 -673.0 559.2 -658.4 576.3 -643.6 593.2 -628.4 609.8 -612.9 626.1 -597.1 642.3 -581.0 658.2 -564.7 673.9 -548.0 689.3 -531.1 704.5 -513.9 719.5 -496.4 734.2 -478.6 748.7 -460.6 763.0 -442.4 777.0 -423.9 790.8 -405.1 804.3 -386.1 817.7 -366.9 830.7 -347.5 843.6 -327.8 856.2 -307.9 868.5 -287.8 880.7 -267.5 892.6 -247.0 904.2 -226.3 915.6 -205.3 926.8 -184.2 937.8 -162.9 948.5 -141.5 958.9 -119.8 969.2 -98.0 979.2 -76.0 988.9 -53.9 998.5 -31.5 1007.7 -9.1 1016.8 13.5 1025.6 36.3 1034.2 59.2 1042.5 82.3 1050.6 105.4 1058.5 128.7 1066.1 152.2 1073.5 175.7 1080.7 199.4 1087.6 223.2 1094.3 247.1 1100.8 271.1 1107.0 295.2 1113.0 319.4 1118.7 343.7 1124.2 368.0 1129.5 392.5 1134.5 417.1 1139.4 441.7 1143.9 466.4 1148.3 491.1 1152.4 516.0 1156.2 540.9 1159.9 565.8 1163.3 590.8 1166.4 615.9 1169.4 641.0 1172.1 666.1 1174.5 691.3 1176.7 716.5 1178.7 741.8 1180.5 767.0 1182.0 792.3 1183.3 817.6 1184.4 843.0 1185.2 868.3 1185.8 893.6 1186.1 919.0 1186.2 944.4 1186.1 969.7 1185.8 995.0 1185.2 1020.4 1184.4 1045.7 1183.3 1071.0 1182.0 1096.2 1180.5 1121.5 1178.7 1146.7 1176.7 1171.9 1174.5 1197.0 1172.1 1222.1 1169.4 1247.2 1166.4 1272.2 1163.3 1297.1 1159.9 1322.0 1156.2 1346.9 1152.4 1371.6 1148.3 1396.3 1143.9 1420.9 1139.4 1445.5 1134.5 1470.0 1129.5 1494.3 1124.2 1518.6 1118.7 1542.8 1113.0 1566.9 1107.0 1590.9 1100.8 1614.8 1094.3 1638.6 1087.6 1662.3 1080.7 1685.8 1073.5 1709.3 1066.1 1732.6 1058.5 1755.7 1050.6 1778.8 1042.5 1801.7 1034.2 1824.5 1025.6 1847.1 1016.8 1869.5 1007.7 1891.9 998.5 1914.0 988.9 1936.0 979.2 1957.8 969.2 1979.5 958.9 2000.9 948.5 2022.2 937.8 2043.3 926.8 2064.3 915.6 2085.0 904.2 2105.5 892.6 2125.8 880.7 2145.9 868.5 2165.8 856.2 2185.5 843.6 2204.9 830.7 2224.1 817.7 2243.1 804.3 2261.9 790.8 2280.4 777.0 2298.6 763.0 2316.6 748.7 2334.4 734.2 2351.9 719.5 2369.1 704.5 2386.0 689.3 2402.7 673.9 2419.0 658.2 2435.1 642.3 2450.9 626.1 2466.4 609.8 2481.6 593.2 2496.4 576.3 2511.0 559.2 2525.2 541.9 2539.1 524.4 2552.6 506.6 2565.8 488.6 2578.7 470.4 2591.2 451.9 2603.3 433.2"/>
<path d="M-623.6 306.4 -613.1 323.9 -602.2 341.3 -590.9 358.5 -579.3 375.4 -567.4 392.1 -555.2 408.7 -542.6 425.0 -529.7 441.1 -516.5 457.0 -503.0 472.7 -489.2 488.2 -475.1 503.5 -460.7 518.5 -446.0 533.4 -431.1 548.0 -415.8 562.4 -400.3 576.6 -384.6 590.6 -368.6 604.4 -352.3 617.9 -335.8 631.3 -319.0 644.4 -302.0 657.2 -284.8 669.9 -267.3 682.4 -249.6 694.6 -231.7 706.6 -213.6 718.4 -195.3 730.0 -176.7 741.3 -158.0 752.4 -139.0 763.3 -119.9 774.0 -100.6 784.4 -81.1 794.7 -61.4 804.7 -41.6 814.5 -21.5 824.0 -1.3 833.4 19.0 842.5 39.5 851.4 60.2 860.0 81.0 868.5 102.0 876.7 123.1 884.7 144.3 892.4 165.7 900.0 187.2 907.3 208.8 914.4 230.5 921.3 252.4 927.9 274.3 934.3 296.4 940.5 318.6 946.5 340.9 952.2 363.3 957.7 385.7 963.0 408.3 968.1 430.9 972.9 453.6 977.6 476.4 981.9 499.3 986.1 522.3 990.1 545.3 993.8 568.3 997.3 591.4 1000.5 614.6 1003.6 637.8 1006.4 661.1 1009.0 684.4 1011.3 707.8 1013.5 731.2 1015.4 754.6 1017.1 778.0 1018.6 801.5 1019.8 825.0 1020.8 848.5 1021.6 872.0 1022.2 895.5 1022.5 919.0 1022.6 942.5 1022.5 966.0 1022.2 989.5 1021.6 1013.0 1020.8 1036.5 1019.8 1060.0 1018.6 1083.4 1017.1 1106.8 1015.4 1130.2 1013.5 1153.6 1011.3 1176.9 1009.0 1200.2 1006.4 1223.4 1003.6 1246.6 1000.5 1269.7 997.3 1292.7 993.8 1315.7 990.1 1338.7 986.1 1361.6 981.9 1384.4 977.6 1407.1 972.9 1429.7 968.1 1452.3 963.0 1474.7 957.7 1497.1 952.2 1519.4 946.5 1541.6 940.5 1563.7 934.3 1585.6 927.9 1607.5 921.3 1629.2 914.4 1650.8 907.3 1672.3 900.0 1693.7 892.4 1714.9 884.7 1736.0 876.7 1757.0 868.5 1777.8 860.0 1798.5 851.4 1819.0 842.5 1839.3 833.4 1859.5 824.0 1879.6 814.5 1899.4 804.7 1919.1 794.7 1938.6 784.4 1957.9 774.0 1977.0 763.3 1996.0 752.4 2014.7 741.3 2033.3 730.0 2051.6 718.4 2069.7 706.6 2087.6 694.6 2105.3 682.4 2122.8 669.9 2140.0 657.2 2157.0 644.4 2173.8 631.3 2190.3 617.9 2206.6 604.4 2222.6 590.6 2238.3 576.6 2253.8 562.4 2269.1 548.0 2284.0 533.4 2298.7 518.5 2313.1 503.5 2327.2 488.2 2341.0 472.7 2354.5 457.0 2367.7 441.1 2380.6 425.0 2393.2 408.7 2405.4 392.1 2417.3 375.4 2428.9 358.5 2440.2 341.3 2451.1 323.9 2461.6 306.4"/>
<path d="M-474.2 189.2 -465.2 205.4 -455.8 221.5 -446.2 237.3 -436.2 253.0 -425.8 268.5 -415.2 283.9 -404.3 299.0 -393.0 314.0 -381.5 328.8 -369.7 343.3 -357.6 357.8 -345.2 372.0 -332.5 386.0 -319.5 399.8 -306.3 413.5 -292.9 426.9 -279.1 440.2 -265.1 453.2 -250.9 466.1 -236.4 478.8 -221.7 491.2 -206.7 503.5 -191.5 515.6 -176.1 527.5 -160.5 539.1 -144.6 550.6 -128.6 561.9 -112.3 572.9 -95.8 583.8 -79.1 594.4 -62.3 604.9 -45.2 615.1 -28.0 625.2 -10.5 635.0 7.1 644.6 24.9 654.0 42.8 663.3 60.9 672.3 79.2 681.1 97.7 689.7 116.3 698.0 135.0 706.2 153.9 714.2 172.9 721.9 192.1 729.5 211.4 736.8 230.8 743.9 250.4 750.8 270.0 757.5 289.8 764.0 309.7 770.3 329.7 776.4 349.9 782.2 370.1 787.9 390.4 793.3 410.8 798.5 431.3 803.5 451.9 808.3 472.6 812.9 493.3 817.3 514.1 821.4 535.0 825.4 556.0 829.1 577.0 832.6 598.1 835.9 619.3 839.0 640.4 841.9 661.7 844.6 683.0 847.0 704.3 849.3 725.7 851.3 747.1 853.1 768.5 854.7 789.9 856.1 811.4 857.3 832.9 858.3 854.4 859.0 875.9 859.5 897.5 859.9 919.0 860.0 940.5 859.9 962.1 859.5 983.6 859.0 1005.1 858.3 1026.6 857.3 1048.1 856.1 1069.5 854.7 1090.9 853.1 1112.3 851.3 1133.7 849.3 1155.0 847.0 1176.3 844.6 1197.6 841.9 1218.7 839.0 1239.9 835.9 1261.0 832.6 1282.0 829.1 1303.0 825.4 1323.9 821.4 1344.7 817.3 1365.4 812.9 1386.1 808.3 1406.7 803.5 1427.2 798.5 1447.6 793.3 1467.9 787.9 1488.1 782.2 1508.3 776.4 1528.3 770.3 1548.2 764.0 1568.0 757.5 1587.6 750.8 1607.2 743.9 1626.6 736.8 1645.9 729.5 1665.1 721.9 1684.1 714.2 1703.0 706.2 1721.7 698.0 1740.3 689.7 1758.8 681.1 1777.1 672.3 1795.2 663.3 1813.1 654.0 1830.9 644.6 1848.5 635.0 1866.0 625.2 1883.2 615.1 1900.3 604.9 1917.1 594.4 1933.8 583.8 1950.3 572.9 1966.6 561.9 1982.6 550.6 1998.5 539.1 2014.1 527.5 2029.5 515.6 2044.7 503.5 2059.7 491.2 2074.4 478.8 2088.9 466.1 2103.1 453.2 2117.1 440.2 2130.9 426.9 2144.3 413.5 2157.5 399.8 2170.5 386.0 2183.2 372.0 2195.6 357.8 2207.7 343.3 2219.5 328.8 2231.0 314.0 2242.3 299.0 2253.2 283.9 2263.8 268.5 2274.2 253.0 2284.2 237.3 2293.8 221.5 2303.2 205.4 2312.2 189.2"/>
<path d="M-317.7 81.9 -310.2 96.6 -302.3 111.2 -294.2 125.5 -285.7 139.8 -277.0 153.9 -268.0 167.8 -258.6 181.6 -249.0 195.2 -239.1 208.7 -229.0 222.0 -218.6 235.2 -207.9 248.2 -196.9 261.0 -185.7 273.6 -174.3 286.1 -162.6 298.4 -150.6 310.6 -138.4 322.5 -126.0 334.3 -113.3 346.0 -100.5 357.4 -87.3 368.7 -74.0 379.8 -60.5 390.7 -46.7 401.4 -32.8 412.0 -18.6 422.4 -4.3 432.6 10.3 442.6 25.0 452.4 39.9 462.0 55.0 471.5 70.3 480.8 85.8 489.9 101.4 498.8 117.2 507.5 133.1 516.0 149.3 524.3 165.5 532.5 181.9 540.4 198.5 548.2 215.2 555.7 232.1 563.1 249.0 570.3 266.1 577.3 283.4 584.1 300.7 590.7 318.2 597.1 335.8 603.3 353.5 609.4 371.4 615.2 389.3 620.8 407.3 626.3 425.4 631.5 443.7 636.6 462.0 641.4 480.4 646.1 498.8 650.5 517.4 654.8 536.0 658.9 554.7 662.7 573.5 666.4 592.4 669.9 611.3 673.2 630.2 676.2 649.2 679.1 668.3 681.8 687.4 684.3 706.5 686.6 725.7 688.7 745.0 690.6 764.2 692.2 783.5 693.7 802.8 695.0 822.1 696.1 841.5 697.0 860.9 697.7 880.2 698.2 899.6 698.5 919.0 698.6 938.4 698.5 957.8 698.2 977.1 697.7 996.5 697.0 1015.9 696.1 1035.2 695.0 1054.5 693.7 1073.8 692.2 1093.0 690.6 1112.3 688.7 1131.5 686.6 1150.6 684.3 1169.7 681.8 1188.8 679.1 1207.8 676.2 1226.7 673.2 1245.6 669.9 1264.5 666.4 1283.3 662.7 1302.0 658.9 1320.6 654.8 1339.2 650.5 1357.6 646.1 1376.0 641.4 1394.3 636.6 1412.6 631.5 1430.7 626.3 1448.7 620.8 1466.6 615.2 1484.5 609.4 1502.2 603.3 1519.8 597.1 1537.3 590.7 1554.6 584.1 1571.9 577.3 1589.0 570.3 1605.9 563.1 1622.8 555.7 1639.5 548.2 1656.1 540.4 1672.5 532.5 1688.7 524.3 1704.9 516.0 1720.8 507.5 1736.6 498.8 1752.2 489.9 1767.7 480.8 1783.0 471.5 1798.1 462.0 1813.0 452.4 1827.7 442.6 1842.3 432.6 1856.6 422.4 1870.8 412.0 1884.7 401.4 1898.5 390.7 1912.0 379.8 1925.3 368.7 1938.5 357.4 1951.3 346.0 1964.0 334.3 1976.4 322.5 1988.6 310.6 2000.6 298.4 2012.3 286.1 2023.7 273.6 2034.9 261.0 2045.9 248.2 2056.6 235.2 2067.0 222.0 2077.1 208.7 2087.0 195.2 2096.6 181.6 2106.0 167.8 2115.0 153.9 2123.7 139.8 2132.2 125.5 2140.3 111.2 2148.2 96.6 2155.7 81.9"/>
<path d="M-154.9 -15.2 -148.7 -2.2 -142.3 10.7 -135.6 23.4 -128.7 36.1 -121.4 48.6 -114.0 60.9 -106.2 73.2 -98.2 85.3 -89.9 97.3 -81.4 109.2 -72.7 120.9 -63.7 132.5 -54.4 143.9 -45.0 155.2 -35.3 166.3 -25.3 177.4 -15.2 188.2 -4.8 198.9 5.8 209.5 16.6 219.9 27.6 230.2 38.8 240.3 50.2 250.3 61.8 260.1 73.6 269.7 85.6 279.2 97.8 288.6 110.2 297.8 122.8 306.8 135.5 315.6 148.4 324.3 161.5 332.9 174.7 341.2 188.1 349.4 201.7 357.5 215.4 365.3 229.2 373.0 243.2 380.6 257.4 387.9 271.7 395.1 286.1 402.2 300.7 409.0 315.4 415.7 330.2 422.2 345.2 428.6 360.2 434.7 375.4 440.7 390.7 446.5 406.1 452.2 421.6 457.7 437.2 463.0 452.9 468.1 468.7 473.0 484.6 477.8 500.6 482.4 516.7 486.8 532.9 491.0 549.1 495.1 565.4 499.0 581.8 502.7 598.2 506.2 614.7 509.5 631.3 512.7 647.9 515.7 664.6 518.5 681.3 521.1 698.1 523.6 714.9 525.8 731.8 527.9 748.7 529.8 765.6 531.5 782.6 533.1 799.6 534.4 816.6 535.6 833.6 536.6 850.7 537.4 867.8 538.1 884.8 538.5 901.9 538.8 919.0 538.9 936.1 538.8 953.2 538.5 970.2 538.1 987.3 537.4 1004.4 536.6 1021.4 535.6 1038.4 534.4 1055.4 533.1 1072.4 531.5 1089.3 529.8 1106.2 527.9 1123.1 525.8 1139.9 523.6 1156.7 521.1 1173.4 518.5 1190.1 515.7 1206.7 512.7 1223.3 509.5 1239.8 506.2 1256.2 502.7 1272.6 499.0 1288.9 495.1 1305.1 491.0 1321.3 486.8 1337.4 482.4 1353.4 477.8 1369.3 473.0 1385.1 468.1 1400.8 463.0 1416.4 457.7 1431.9 452.2 1447.3 446.5 1462.6 440.7 1477.8 434.7 1492.8 428.6 1507.8 422.2 1522.6 415.7 1537.3 409.0 1551.9 402.2 1566.3 395.1 1580.6 387.9 1594.8 380.6 1608.8 373.0 1622.6 365.3 1636.3 357.5 1649.9 349.4 1663.3 341.2 1676.5 332.9 1689.6 324.3 1702.5 315.6 1715.2 306.8 1727.8 297.8 1740.2 288.6 1752.4 279.2 1764.4 269.7 1776.2 260.1 1787.8 250.3 1799.2 240.3 1810.4 230.2 1821.4 219.9 1832.2 209.5 1842.8 198.9 1853.2 188.2 1863.3 177.4 1873.3 166.3 1883.0 155.2 1892.4 143.9 1901.7 132.5 1910.7 120.9 1919.4 109.2 1927.9 97.3 1936.2 85.3 1944.2 73.2 1952.0 60.9 1959.4 48.6 1966.7 36.1 1973.6 23.4 1980.3 10.7 1986.7 -2.2 1992.9 -15.2"/>
<path d="M13.7 -101.8 18.6 -90.7 23.6 -79.6 28.9 -68.7 34.4 -57.8 40.2 -47.1 46.2 -36.4 52.4 -25.9 58.9 -15.5 65.6 -5.1 72.5 5.1 79.6 15.2 86.9 25.2 94.5 35.1 102.2 44.9 110.2 54.6 118.3 64.1 126.7 73.6 135.3 82.9 144.0 92.0 152.9 101.1 162.1 110.0 171.4 118.8 180.9 127.5 190.5 136.1 200.4 144.5 210.4 152.8 220.6 160.9 230.9 168.9 241.4 176.8 252.1 184.6 262.9 192.2 273.9 199.6 285.0 206.9 296.3 214.1 307.7 221.2 319.3 228.1 330.9 234.8 342.8 241.5 354.7 247.9 366.8 254.2 379.0 260.4 391.4 266.4 403.8 272.3 416.4 278.1 429.0 283.6 441.8 289.1 454.7 294.3 467.7 299.5 480.8 304.5 494.0 309.3 507.3 313.9 520.6 318.5 534.1 322.8 547.6 327.0 561.3 331.1 575.0 335.0 588.8 338.7 602.6 342.3 616.5 345.7 630.5 349.0 644.5 352.1 658.6 355.1 672.8 357.9 687.0 360.5 701.3 363.0 715.6 365.3 729.9 367.5 744.3 369.5 758.7 371.3 773.2 373.0 787.7 374.5 802.2 375.9 816.8 377.1 831.3 378.1 845.9 379.0 860.5 379.7 875.1 380.3 889.7 380.7 904.4 381.0 919.0 381.0 933.6 381.0 948.3 380.7 962.9 380.3 977.5 379.7 992.1 379.0 1006.7 378.1 1021.2 377.1 1035.8 375.9 1050.3 374.5 1064.8 373.0 1079.3 371.3 1093.7 369.5 1108.1 367.5 1122.4 365.3 1136.7 363.0 1151.0 360.5 1165.2 357.9 1179.4 355.1 1193.5 352.1 1207.5 349.0 1221.5 345.7 1235.4 342.3 1249.2 338.7 1263.0 335.0 1276.7 331.1 1290.4 327.0 1303.9 322.8 1317.4 318.5 1330.7 313.9 1344.0 309.3 1357.2 304.5 1370.3 299.5 1383.3 294.3 1396.2 289.1 1409.0 283.6 1421.6 278.1 1434.2 272.3 1446.6 266.4 1459.0 260.4 1471.2 254.2 1483.3 247.9 1495.2 241.5 1507.1 234.8 1518.7 228.1 1530.3 221.2 1541.7 214.1 1553.0 206.9 1564.1 199.6 1575.1 192.2 1585.9 184.6 1596.6 176.8 1607.1 168.9 1617.4 160.9 1627.6 152.8 1637.6 144.5 1647.5 136.1 1657.1 127.5 1666.6 118.8 1675.9 110.0 1685.1 101.1 1694.0 92.0 1702.7 82.9 1711.3 73.6 1719.7 64.1 1727.8 54.6 1735.8 44.9 1743.5 35.1 1751.1 25.2 1758.4 15.2 1765.5 5.1 1772.4 -5.1 1779.1 -15.5 1785.6 -25.9 1791.8 -36.4 1797.8 -47.1 1803.6 -57.8 1809.1 -68.7 1814.4 -79.6 1819.4 -90.7 1824.3 -101.8"/>
<path d="M187.4 -177.7 191.0 -168.6 194.8 -159.5 198.8 -150.5 203.0 -141.6 207.4 -132.8 212.0 -124.0 216.7 -115.3 221.7 -106.7 226.9 -98.2 232.2 -89.7 237.8 -81.3 243.5 -73.1 249.4 -64.9 255.4 -56.8 261.7 -48.7 268.1 -40.8 274.7 -33.0 281.4 -25.3 288.3 -17.6 295.4 -10.1 302.6 -2.6 310.0 4.7 317.6 11.9 325.3 19.1 333.1 26.1 341.1 33.0 349.3 39.8 357.6 46.5 366.0 53.1 374.6 59.6 383.3 66.0 392.1 72.3 401.1 78.4 410.1 84.4 419.4 90.4 428.7 96.1 438.1 101.8 447.7 107.4 457.4 112.8 467.2 118.2 477.1 123.4 487.1 128.4 497.2 133.4 507.4 138.2 517.7 142.9 528.1 147.5 538.6 152.0 549.2 156.3 559.9 160.5 570.6 164.6 581.4 168.5 592.4 172.4 603.4 176.1 614.4 179.6 625.6 183.0 636.8 186.3 648.0 189.5 659.4 192.5 670.7 195.5 682.2 198.2 693.7 200.9 705.3 203.4 716.9 205.7 728.5 208.0 740.2 210.1 751.9 212.1 763.7 213.9 775.5 215.6 787.4 217.2 799.2 218.6 811.1 219.9 823.1 221.0 835.0 222.1 847.0 222.9 858.9 223.7 870.9 224.3 882.9 224.8 895.0 225.1 907.0 225.3 919.0 225.4 931.0 225.3 943.0 225.1 955.1 224.8 967.1 224.3 979.1 223.7 991.0 222.9 1003.0 222.1 1014.9 221.0 1026.9 219.9 1038.8 218.6 1050.6 217.2 1062.5 215.6 1074.3 213.9 1086.1 212.1 1097.8 210.1 1109.5 208.0 1121.1 205.7 1132.7 203.4 1144.3 200.9 1155.8 198.2 1167.3 195.5 1178.6 192.5 1190.0 189.5 1201.2 186.3 1212.4 183.0 1223.6 179.6 1234.6 176.1 1245.6 172.4 1256.6 168.5 1267.4 164.6 1278.1 160.5 1288.8 156.3 1299.4 152.0 1309.9 147.5 1320.3 142.9 1330.6 138.2 1340.8 133.4 1350.9 128.4 1360.9 123.4 1370.8 118.2 1380.6 112.8 1390.3 107.4 1399.9 101.8 1409.3 96.1 1418.6 90.4 1427.9 84.4 1436.9 78.4 1445.9 72.3 1454.7 66.0 1463.4 59.6 1472.0 53.1 1480.4 46.5 1488.7 39.8 1496.9 33.0 1504.9 26.1 1512.7 19.1 1520.4 11.9 1528.0 4.7 1535.4 -2.6 1542.6 -10.1 1549.7 -17.6 1556.6 -25.3 1563.3 -33.0 1569.9 -40.8 1576.3 -48.7 1582.6 -56.8 1588.6 -64.9 1594.5 -73.1 1600.2 -81.3 1605.8 -89.7 1611.1 -98.2 1616.3 -106.7 1621.3 -115.3 1626.0 -124.0 1630.6 -132.8 1635.0 -141.6 1639.2 -150.5 1643.2 -159.5 1647.0 -168.6 1650.6 -177.7"/>
<path d="M-181.7 1318.4 -170.0 1286.0 -158.1 1253.6 -145.9 1221.4 -133.5 1189.3 -120.8 1157.2 -107.9 1125.3 -94.8 1093.4 -81.4 1061.6 -67.7 1030.0 -53.9 998.5 -39.8 967.0 -25.4 935.7 -10.8 904.5 4.0 873.4 19.0 842.5 34.3 811.6 49.8 780.9 65.5 750.4 81.5 719.9 97.7 689.7 114.1 659.5 130.7 629.5 147.6 599.7 164.6 570.0 181.9 540.4 199.5 511.0 217.2 481.8 235.1 452.7 253.3 423.8 271.7 395.1 290.3 366.6 309.1 338.2 328.1 310.0 347.4 282.0 366.8 254.2 386.5 226.6 406.3 199.2 426.4 172.0 446.7 145.0 467.2 118.2 487.9 91.6 508.8 65.2 529.9 39.0 551.2 13.0 572.7 -12.7 594.4 -38.2 616.3 -63.5 638.4 -88.5 660.7 -113.3 683.2 -137.8 705.9 -162.1 728.8 -186.2 751.9 -210.0 775.2 -233.6 798.7 -256.8"/>
<path d="M80.0 1404.8 88.7 1372.1 97.6 1339.5 106.8 1306.9 116.0 1274.4 125.5 1242.0 135.2 1209.6 145.1 1177.3 155.1 1145.0 165.3 1112.8 175.7 1080.7 186.3 1048.6 197.1 1016.7 208.1 984.8 219.2 953.0 230.5 921.3 242.0 889.6 253.7 858.1 265.6 826.6 277.6 795.3 289.8 764.0 302.2 732.9 314.8 701.8 327.5 670.9 340.4 640.1 353.5 609.4 366.8 578.8 380.3 548.3 393.9 518.0 407.7 487.7 421.6 457.7 435.8 427.7 450.1 397.9 464.5 368.2 479.2 338.7 494.0 309.3 509.0 280.0 524.1 250.9 539.5 222.0 554.9 193.2 570.6 164.6 586.4 136.1 602.4 107.8 618.6 79.7 634.9 51.8 651.4 24.0 668.1 -3.6 684.9 -31.0 701.9 -58.2 719.1 -85.3 736.4 -112.1 753.9 -138.8 771.6 -165.2 789.4 -191.4 807.4 -217.5 825.6 -243.3"/>
<path d="M353.3 1466.2 359.1 1433.4 365.1 1400.6 371.1 1367.8 377.3 1335.1 383.6 1302.3 390.0 1269.7 396.6 1237.0 403.3 1204.4 410.1 1171.9 417.1 1139.4 424.1 1106.9 431.3 1074.5 438.6 1042.1 446.1 1009.8 453.6 977.6 461.3 945.4 469.1 913.2 477.1 881.2 485.1 849.2 493.3 817.3 501.6 785.4 510.0 753.7 518.6 722.0 527.3 690.4 536.0 658.9 544.9 627.4 554.0 596.1 563.1 564.9 572.4 533.7 581.8 502.7 591.3 471.7 600.9 440.9 610.6 410.1 620.5 379.5 630.5 349.0 640.6 318.6 650.8 288.3 661.2 258.2 671.6 228.1 682.2 198.2 692.9 168.4 703.7 138.8 714.6 109.3 725.7 79.9 736.9 50.7 748.2 21.6 759.6 -7.4 771.1 -36.2 782.8 -64.8 794.5 -93.3 806.4 -121.7 818.5 -149.8 830.6 -177.9 842.9 -205.7 855.2 -233.4"/>
<path d="M634.3 1503.0 637.2 1470.0 640.1 1437.1 643.2 1404.2 646.2 1371.4 649.4 1338.5 652.6 1305.7 655.9 1272.8 659.2 1240.0 662.6 1207.3 666.1 1174.5 669.7 1141.8 673.2 1109.1 676.9 1076.5 680.6 1043.9 684.4 1011.3 688.3 978.8 692.2 946.4 696.2 914.0 700.2 881.6 704.3 849.3 708.5 817.0 712.7 784.8 717.0 752.7 721.3 720.7 725.7 688.7 730.2 656.7 734.7 624.9 739.3 593.1 744.0 561.4 748.7 529.8 753.5 498.3 758.3 466.8 763.2 435.5 768.2 404.2 773.2 373.0 778.3 341.9 783.4 310.9 788.6 280.0 793.9 249.3 799.2 218.6 804.6 188.0 810.1 157.6 815.6 127.2 821.2 97.0 826.8 66.8 832.5 36.9 838.3 7.0 844.1 -22.8 850.0 -52.4 855.9 -81.9 862.0 -111.3 868.0 -140.5 874.2 -169.6 880.4 -198.5 886.7 -227.3"/>
<path d="M919.0 1515.2 919.0 1482.3 919.0 1449.3 919.0 1416.4 919.0 1383.5 919.0 1350.5 919.0 1317.6 919.0 1284.8 919.0 1251.9 919.0 1219.1 919.0 1186.2 919.0 1153.4 919.0 1120.7 919.0 1088.0 919.0 1055.3 919.0 1022.6 919.0 990.0 919.0 957.4 919.0 924.9 919.0 892.4 919.0 860.0 919.0 827.6 919.0 795.3 919.0 763.0 919.0 730.8 919.0 698.6 919.0 666.5 919.0 634.5 919.0 602.6 919.0 570.7 919.0 538.9 919.0 507.1 919.0 475.5 919.0 443.9 919.0 412.4 919.0 381.0 919.0 349.7 919.0 318.5 919.0 287.4 919.0 256.3 919.0 225.4 919.0 194.6 919.0 163.8 919.0 133.2 919.0 102.7 919.0 72.3 919.0 42.0 919.0 11.8 919.0 -18.3 919.0 -48.2 919.0 -78.1 919.0 -107.8 919.0 -137.3 919.0 -166.8 919.0 -196.1 919.0 -225.3"/>
<path d="M1203.7 1503.0 1200.8 1470.0 1197.9 1437.1 1194.8 1404.2 1191.8 1371.4 1188.6 1338.5 1185.4 1305.7 1182.1 1272.8 1178.8 1240.0 1175.4 1207.3 1171.9 1174.5 1168.3 1141.8 1164.8 1109.1 1161.1 1076.5 1157.4 1043.9 1153.6 1011.3 1149.7 978.8 1145.8 946.4 1141.8 914.0 1137.8 881.6 1133.7 849.3 1129.5 817.0 1125.3 784.8 1121.0 752.7 1116.7 720.7 1112.3 688.7 1107.8 656.7 1103.3 624.9 1098.7 593.1 1094.0 561.4 1089.3 529.8 1084.5 498.3 1079.7 466.8 1074.8 435.5 1069.8 404.2 1064.8 373.0 1059.7 341.9 1054.6 310.9 1049.4 280.0 1044.1 249.3 1038.8 218.6 1033.4 188.0 1027.9 157.6 1022.4 127.2 1016.8 97.0 1011.2 66.8 1005.5 36.9 999.7 7.0 993.9 -22.8 988.0 -52.4 982.1 -81.9 976.0 -111.3 970.0 -140.5 963.8 -169.6 957.6 -198.5 951.3 -227.3"/>
<path d="M1484.7 1466.2 1478.9 1433.4 1472.9 1400.6 1466.9 1367.8 1460.7 1335.1 1454.4 1302.3 1448.0 1269.7 1441.4 1237.0 1434.7 1204.4 1427.9 1171.9 1420.9 1139.4 1413.9 1106.9 1406.7 1074.5 1399.4 1042.1 1391.9 1009.8 1384.4 977.6 1376.7 945.4 1368.9 913.2 1360.9 881.2 1352.9 849.2 1344.7 817.3 1336.4 785.4 1328.0 753.7 1319.4 722.0 1310.7 690.4 1302.0 658.9 1293.1 627.4 1284.0 596.1 1274.9 564.9 1265.6 533.7 1256.2 502.7 1246.7 471.7 1237.1 440.9 1227.4 410.1 1217.5 379.5 1207.5 349.0 1197.4 318.6 1187.2 288.3 1176.8 258.2 1166.4 228.1 1155.8 198.2 1145.1 168.4 1134.3 138.8 1123.4 109.3 1112.3 79.9 1101.1 50.7 1089.8 21.6 1078.4 -7.4 1066.9 -36.2 1055.2 -64.8 1043.5 -93.3 1031.6 -121.7 1019.5 -149.8 1007.4 -177.9 995.1 -205.7 982.8 -233.4"/>
</g>
<g class="dj" font-size="17.65" fill="#000">
<circle cx="773.8" cy="235.8" r="4.1"/><text x="775.0" y="235.0">Норильск</text>
<circle cx="420.7" cy="422.4" r="4.1"/><text x="421.9" y="421.6">Ханты-Мансийск</text>
<circle cx="223.8" cy="491.0" r="4.1"/><text x="225.0" y="490.2">Екатеринбург</text>
<circle cx="278.7" cy="566.0" r="4.1"/><text x="279.9" y="565.2">Курган</text>
<circle cx="413.9" cy="628.5" r="4.1"/><text x="415.1" y="627.7">Омск</text>
<circle cx="639.4" cy="628.6" r="4.1"/><text x="640.6" y="627.8">Томск</text>
<circle cx="591.3" cy="668.7" r="4.1"/><text x="592.5" y="667.9">Новосибирск</text>
<circle cx="784.2" cy="661.2" r="4.1"/><text x="785.4" y="660.4">Красноярск</text>
<circle cx="663.5" cy="721.7" r="4.1"/><text x="664.7" y="720.9">Новокузнецк</text>
<circle cx="803.6" cy="801.1" r="4.1"/><text x="804.8" y="800.3">Кызыл</text>
<circle cx="1007.4" cy="784.0" r="4.1"/><text x="1008.6" y="783.2">Иркутск</text>
<circle cx="1076.5" cy="794.7" r="4.1"/><text x="1077.7" y="793.9">Улан-Удэ</text>
<circle cx="1196.7" cy="775.3" r="4.1"/><text x="1197.9" y="774.5">Чита</text>
</g>
</g>
<rect x="155.5" y="171.5" width="1256.0" height="970.5" fill="none" stroke="#000" stroke-width="1.2"/>
<g class="dj" font-size="25" fill="#000">
<text x="143.3" y="332.5" text-anchor="end">60°N</text>
<text x="143.3" y="532" text-anchor="end">55°N</text>
<text x="143.3" y="720" text-anchor="end">50°N</text>
<text x="143.3" y="899" text-anchor="end">45°N</text>
<text x="143.3" y="1078" text-anchor="end">40°N</text>
<text x="155" y="1174" text-anchor="middle">70°E</text>
<text x="416.5" y="1174" text-anchor="middle">80°E</text>
<text x="669" y="1174" text-anchor="middle">90°E</text>
<text x="918" y="1174" text-anchor="middle">100°E</text>
<text x="1168" y="1174" text-anchor="middle">110°E</text>
</g>
<g shape-rendering="crispEdges">
<rect x="212.70" y="1190.6" width="23.43" height="48.40000000000009" fill="#7c06ff"/>
<rect x="235.53" y="1190.6" width="23.43" height="48.40000000000009" fill="#7216ff"/>
<rect x="258.36" y="1190.6" width="23.43" height="48.40000000000009" fill="#6826fe"/>
<rect x="281.20" y="1190.6" width="23.43" height="48.40000000000009" fill="#5e35fe"/>
<rect x="304.03" y="1190.6" width="23.43" height="48.40000000000009" fill="#5247fc"/>
<rect x="326.86" y="1190.6" width="23.43" height="48.40000000000009" fill="#4856fb"/>
<rect x="349.69" y="1190.6" width="23.43" height="48.40000000000009" fill="#3e65fa"/>
<rect x="372.52" y="1190.6" width="23.43" height="48.40000000000009" fill="#3473f8"/>
<rect x="395.36" y="1190.6" width="23.43" height="48.40000000000009" fill="#2981f6"/>
<rect x="418.19" y="1190.6" width="23.43" height="48.40000000000009" fill="#208ef4"/>
<rect x="441.02" y="1190.6" width="23.43" height="48.40000000000009" fill="#169bf2"/>
<rect x="463.85" y="1190.6" width="23.43" height="48.40000000000009" fill="#0ca7ef"/>
<rect x="486.68" y="1190.6" width="23.43" height="48.40000000000009" fill="#00b5eb"/>
<rect x="509.52" y="1190.6" width="23.43" height="48.40000000000009" fill="#0ac0e8"/>
<rect x="532.35" y="1190.6" width="23.43" height="48.40000000000009" fill="#14cae5"/>
<rect x="555.18" y="1190.6" width="23.43" height="48.40000000000009" fill="#1fd3e1"/>
<rect x="578.01" y="1190.6" width="23.43" height="48.40000000000009" fill="#28dbde"/>
<rect x="600.84" y="1190.6" width="23.43" height="48.40000000000009" fill="#32e3da"/>
<rect x="623.68" y="1190.6" width="23.43" height="48.40000000000009" fill="#3dead5"/>
<rect x="646.51" y="1190.6" width="23.43" height="48.40000000000009" fill="#46efd1"/>
<rect x="669.34" y="1190.6" width="23.43" height="48.40000000000009" fill="#50f4cc"/>
<rect x="692.17" y="1190.6" width="23.43" height="48.40000000000009" fill="#5df9c7"/>
<rect x="715.00" y="1190.6" width="23.43" height="48.40000000000009" fill="#66fcc2"/>
<rect x="737.84" y="1190.6" width="23.43" height="48.40000000000009" fill="#70febc"/>
<rect x="760.67" y="1190.6" width="23.43" height="48.40000000000009" fill="#7affb7"/>
<rect x="783.50" y="1190.6" width="23.43" height="48.40000000000009" fill="#84ffb2"/>
<rect x="806.33" y="1190.6" width="23.43" height="48.40000000000009" fill="#8efeac"/>
<rect x="829.16" y="1190.6" width="23.43" height="48.40000000000009" fill="#99fca6"/>
<rect x="852.00" y="1190.6" width="23.43" height="48.40000000000009" fill="#a2f9a0"/>
<rect x="874.83" y="1190.6" width="23.43" height="48.40000000000009" fill="#aef498"/>
<rect x="897.66" y="1190.6" width="23.43" height="48.40000000000009" fill="#b9ef92"/>
<rect x="920.49" y="1190.6" width="23.43" height="48.40000000000009" fill="#c2ea8c"/>
<rect x="943.32" y="1190.6" width="23.43" height="48.40000000000009" fill="#cce385"/>
<rect x="966.16" y="1190.6" width="23.43" height="48.40000000000009" fill="#d6db7e"/>
<rect x="988.99" y="1190.6" width="23.43" height="48.40000000000009" fill="#e0d377"/>
<rect x="1011.82" y="1190.6" width="23.43" height="48.40000000000009" fill="#ebca70"/>
<rect x="1034.65" y="1190.6" width="23.43" height="48.40000000000009" fill="#f4c069"/>
<rect x="1057.48" y="1190.6" width="23.43" height="48.40000000000009" fill="#ffb360"/>
<rect x="1080.32" y="1190.6" width="23.43" height="48.40000000000009" fill="#ffa759"/>
<rect x="1103.15" y="1190.6" width="23.43" height="48.40000000000009" fill="#ff9b52"/>
<rect x="1125.98" y="1190.6" width="23.43" height="48.40000000000009" fill="#ff8e4a"/>
<rect x="1148.81" y="1190.6" width="23.43" height="48.40000000000009" fill="#ff8143"/>
<rect x="1171.64" y="1190.6" width="23.43" height="48.40000000000009" fill="#ff733b"/>
<rect x="1194.48" y="1190.6" width="23.43" height="48.40000000000009" fill="#ff6533"/>
<rect x="1217.31" y="1190.6" width="23.43" height="48.40000000000009" fill="#ff562c"/>
<rect x="1240.14" y="1190.6" width="23.43" height="48.40000000000009" fill="#ff4724"/>
<rect x="1262.97" y="1190.6" width="23.43" height="48.40000000000009" fill="#ff351b"/>
<rect x="1285.80" y="1190.6" width="23.43" height="48.40000000000009" fill="#ff2613"/>
<rect x="1308.64" y="1190.6" width="23.43" height="48.40000000000009" fill="#ff160b"/>
<rect x="1331.47" y="1190.6" width="23.43" height="48.40000000000009" fill="#ff0603"/>
</g>
<polygon points="213.7,1190.6 155.5,1214.8 213.7,1239.0" fill="#8000ff"/>
<polygon points="1353.3,1190.6 1411.5,1214.8 1353.3,1239.0" fill="#ff0000"/>
<polygon points="212.7,1190.6 1354.3,1190.6 1411.5,1214.8 1354.3,1239.0 212.7,1239.0 155.5,1214.8" fill="none" stroke="#000" stroke-width="1.1" stroke-linejoin="miter"/>
<g class="dj" font-size="25" fill="#000" text-anchor="middle">
<line x1="212.7" y1="1239.0" x2="212.7" y2="1244.0" stroke="#000" stroke-width="1.1"/>
<text x="212.7" y="1267.5">0.0100</text>
<line x1="403.0" y1="1239.0" x2="403.0" y2="1244.0" stroke="#000" stroke-width="1.1"/>
<text x="403.0" y="1267.5">0.0917</text>
<line x1="593.2" y1="1239.0" x2="593.2" y2="1244.0" stroke="#000" stroke-width="1.1"/>
<text x="593.2" y="1267.5">0.1734</text>
<line x1="783.5" y1="1239.0" x2="783.5" y2="1244.0" stroke="#000" stroke-width="1.1"/>
<text x="783.5" y="1267.5">0.2551</text>
<line x1="973.8" y1="1239.0" x2="973.8" y2="1244.0" stroke="#000" stroke-width="1.1"/>
<text x="973.8" y="1267.5">0.3368</text>
<line x1="1164.0" y1="1239.0" x2="1164.0" y2="1244.0" stroke="#000" stroke-width="1.1"/>
<text x="1164.0" y="1267.5">0.4185</text>
</g>
<g class="dj" font-size="25" fill="#000" text-anchor="middle">
<text x="783" y="1356">Среднее отношение смеси азотной кислоты (HNO3)</text>
<text x="783" y="1385">в атмосферном столбе, ppbv</text>
</g>
<g class="lib" font-size="16.5" fill="#000" transform="translate(1240.6 0) scale(1.084 1)">
<text x="0" y="1347.6">KA NOAA-20/(CRIS/ATMS)</text>
<text x="0" y="1368.5">2025-12-04 20:04:02</text>
<text x="0" y="1389.5">2025-12-04 21:44:50</text>
</g>
<g class="lib" font-size="13" fill="#1a1a1a" transform="translate(16.8 0) scale(1.09 1)">
<text x="0" y="1430.3">Сибирский центр ФГБУ «НИЦ «Планета»</text>
<text x="0" y="1447.3">Россия, 630099, г. Новосибирск, ул. Советская, 30</text>
<text x="0" y="1463.8">Тел.: (383) 363-46-05, Факс: (383) 363-46-05</text>
<text x="0" y="1480.2">E-Mail: <tspan class="dj" font-size="12" fill="#000">alexk@rcpod.ru, www.rcpod.ru</tspan></text>
</g>
<g id="stamp" transform="translate(340 1380) scale(0.08387)">
<rect x="180" y="155" width="1175" height="1140" fill="#fff"/>
<path d="M180 155 H1355 M180 1295 H1355" stroke="#cfcfcf" stroke-width="10" fill="none"/>
<path d="M180 150 V1300 M1355 150 V1300" stroke="#111" stroke-width="12" fill="none"/>
<path fill="#fff" stroke="#000" stroke-width="20" stroke-linejoin="miter" d="M1255 385 C1130 315 960 285 800 285 C500 285 270 465 270 722 C270 985 500 1160 800 1160 C960 1160 1130 1130 1255 1060 L1255 888 L1085 905 C950 905 850 830 850 720 C850 610 950 530 1085 537 L1255 557 Z"/>
<g class="lib" font-weight="bold" fill="#000">
<text x="452" y="611" font-size="148" textLength="330" lengthAdjust="spacingAndGlyphs">ИСО</text>
<text x="388" y="770" font-size="148" textLength="368" lengthAdjust="spacingAndGlyphs">9001</text>
<text x="392" y="921" font-size="148" textLength="435" lengthAdjust="spacingAndGlyphs">-2015</text>
<path id="sp1" d="M324 420 C428 298 624 236 800 233 C996 230 1180 270 1310 346" fill="none"/>
<path id="sp2" d="M498 1200 C600 1258 750 1290 850 1288 C960 1285 1085 1255 1165 1212" fill="none"/>
<text font-size="84" fill="#111"><textPath href="#sp1" textLength="1050" lengthAdjust="spacingAndGlyphs">ДОБРОСОВЕСТНЫЙ</textPath></text>
<text font-size="86" fill="#111"><textPath href="#sp2" textLength="690" lengthAdjust="spacingAndGlyphs">ПОСТАВЩИК</textPath></text>
</g>
</g>
</svg></body></html>
